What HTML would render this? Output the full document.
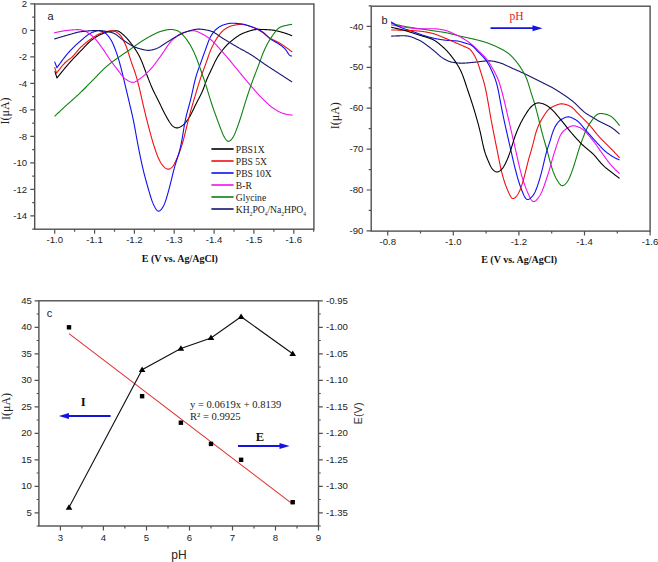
<!DOCTYPE html><html><head><meta charset="utf-8"><style>html,body{margin:0;padding:0;background:#fff;width:658px;height:562px;overflow:hidden}svg{display:block}</style></head><body>
<svg width="658" height="562" viewBox="0 0 658 562">
<rect x="34.7" y="4.0" width="279.2" height="225.2" fill="none" stroke="#505050" stroke-width="1.4"/>
<text transform="translate(54.70,243.30) scale(1.000,1)" font-family='"Liberation Sans", sans-serif' font-size="9.6" text-anchor="middle" fill="#222">-1.0</text>
<text transform="translate(94.55,243.30) scale(1.000,1)" font-family='"Liberation Sans", sans-serif' font-size="9.6" text-anchor="middle" fill="#222">-1.1</text>
<text transform="translate(134.40,243.30) scale(1.000,1)" font-family='"Liberation Sans", sans-serif' font-size="9.6" text-anchor="middle" fill="#222">-1.2</text>
<text transform="translate(174.25,243.30) scale(1.000,1)" font-family='"Liberation Sans", sans-serif' font-size="9.6" text-anchor="middle" fill="#222">-1.3</text>
<text transform="translate(214.10,243.30) scale(1.000,1)" font-family='"Liberation Sans", sans-serif' font-size="9.6" text-anchor="middle" fill="#222">-1.4</text>
<text transform="translate(253.95,243.30) scale(1.000,1)" font-family='"Liberation Sans", sans-serif' font-size="9.6" text-anchor="middle" fill="#222">-1.5</text>
<text transform="translate(293.80,243.30) scale(1.000,1)" font-family='"Liberation Sans", sans-serif' font-size="9.6" text-anchor="middle" fill="#222">-1.6</text>
<text transform="translate(27.20,7.00) scale(1.000,1)" font-family='"Liberation Sans", sans-serif' font-size="9.6" text-anchor="end" fill="#222">2</text>
<text transform="translate(27.20,33.50) scale(1.000,1)" font-family='"Liberation Sans", sans-serif' font-size="9.6" text-anchor="end" fill="#222">0</text>
<text transform="translate(27.20,60.00) scale(1.000,1)" font-family='"Liberation Sans", sans-serif' font-size="9.6" text-anchor="end" fill="#222">-2</text>
<text transform="translate(27.20,86.50) scale(1.000,1)" font-family='"Liberation Sans", sans-serif' font-size="9.6" text-anchor="end" fill="#222">-4</text>
<text transform="translate(27.20,113.00) scale(1.000,1)" font-family='"Liberation Sans", sans-serif' font-size="9.6" text-anchor="end" fill="#222">-6</text>
<text transform="translate(27.20,139.50) scale(1.000,1)" font-family='"Liberation Sans", sans-serif' font-size="9.6" text-anchor="end" fill="#222">-8</text>
<text transform="translate(27.20,166.00) scale(1.000,1)" font-family='"Liberation Sans", sans-serif' font-size="9.6" text-anchor="end" fill="#222">-10</text>
<text transform="translate(27.20,192.50) scale(1.000,1)" font-family='"Liberation Sans", sans-serif' font-size="9.6" text-anchor="end" fill="#222">-12</text>
<text transform="translate(27.20,219.00) scale(1.000,1)" font-family='"Liberation Sans", sans-serif' font-size="9.6" text-anchor="end" fill="#222">-14</text>
<path d="M54.7 229.2v4.5 M94.6 229.2v4.5 M134.4 229.2v4.5 M174.2 229.2v4.5 M214.1 229.2v4.5 M253.9 229.2v4.5 M293.8 229.2v4.5 M74.6 229.2v2.5 M114.5 229.2v2.5 M154.3 229.2v2.5 M194.2 229.2v2.5 M234.0 229.2v2.5 M273.9 229.2v2.5 M313.7 229.2v2.5 M34.7 3.9h-4.4 M34.7 30.4h-4.4 M34.7 56.9h-4.4 M34.7 83.4h-4.4 M34.7 109.9h-4.4 M34.7 136.4h-4.4 M34.7 162.9h-4.4 M34.7 189.4h-4.4 M34.7 215.9h-4.4 M34.7 17.1h-2.5 M34.7 43.6h-2.5 M34.7 70.2h-2.5 M34.7 96.7h-2.5 M34.7 123.2h-2.5 M34.7 149.7h-2.5 M34.7 176.2h-2.5 M34.7 202.7h-2.5 M34.7 229.2h-2.5" stroke="#505050" stroke-width="1.2" fill="none"/>
<path d="M54.80 71.20 L57.00 78.00 L57.00 78.00 L57.50 77.30 L58.00 76.66 L58.50 76.04 L59.00 75.42 L59.50 74.80 L60.00 74.18 L60.50 73.56 L61.00 72.93 L61.50 72.31 L62.00 71.70 L62.50 71.09 L63.00 70.48 L63.50 69.87 L64.00 69.27 L64.50 68.67 L65.00 68.07 L65.50 67.48 L66.00 66.89 L66.50 66.31 L67.00 65.72 L67.50 65.14 L68.00 64.56 L68.50 63.99 L69.00 63.42 L69.50 62.85 L70.00 62.28 L70.50 61.72 L71.00 61.16 L71.50 60.61 L72.00 60.05 L72.50 59.50 L73.00 58.96 L73.50 58.42 L74.00 57.88 L74.50 57.35 L75.00 56.83 L75.50 56.31 L76.00 55.79 L76.50 55.28 L77.00 54.76 L77.50 54.25 L78.00 53.74 L78.50 53.24 L79.00 52.73 L79.50 52.22 L80.00 51.71 L80.50 51.19 L81.00 50.67 L81.50 50.15 L82.00 49.62 L82.50 49.09 L83.00 48.55 L83.50 48.01 L84.00 47.46 L84.50 46.92 L85.00 46.38 L85.50 45.84 L86.00 45.31 L86.50 44.78 L87.00 44.26 L87.50 43.75 L88.00 43.25 L88.50 42.77 L89.00 42.30 L89.50 41.84 L90.00 41.40 L90.50 40.98 L91.00 40.58 L91.50 40.18 L92.00 39.80 L92.50 39.44 L93.00 39.08 L93.50 38.72 L94.00 38.38 L94.50 38.04 L95.00 37.71 L95.50 37.39 L96.00 37.07 L96.50 36.76 L97.00 36.46 L97.50 36.17 L98.00 35.89 L98.50 35.61 L99.00 35.34 L99.50 35.08 L100.00 34.83 L100.50 34.59 L101.00 34.36 L101.50 34.13 L102.00 33.91 L102.50 33.70 L103.00 33.49 L103.50 33.29 L104.00 33.09 L104.50 32.89 L105.00 32.70 L105.50 32.52 L106.00 32.34 L106.50 32.18 L107.00 32.02 L107.50 31.87 L108.00 31.74 L108.50 31.62 L109.00 31.51 L109.50 31.41 L110.00 31.33 L110.50 31.25 L111.00 31.18 L111.50 31.11 L112.00 31.05 L112.50 31.00 L113.00 30.94 L113.50 30.90 L114.00 30.85 L114.50 30.82 L115.00 30.78 L115.50 30.76 L116.00 30.76 L116.50 30.78 L117.00 30.82 L117.50 30.91 L118.00 31.04 L118.50 31.23 L119.00 31.47 L119.50 31.76 L120.00 32.09 L120.50 32.46 L121.00 32.85 L121.50 33.27 L122.00 33.69 L122.50 34.12 L123.00 34.56 L123.50 35.00 L124.00 35.45 L124.50 35.91 L125.00 36.39 L125.50 36.88 L126.00 37.39 L126.50 37.92 L127.00 38.47 L127.50 39.03 L128.00 39.61 L128.50 40.21 L129.00 40.81 L129.50 41.43 L130.00 42.06 L130.50 42.69 L131.00 43.34 L131.50 43.99 L132.00 44.66 L132.50 45.33 L133.00 46.02 L133.50 46.71 L134.00 47.42 L134.50 48.15 L135.00 48.89 L135.50 49.65 L136.00 50.43 L136.50 51.23 L137.00 52.05 L137.50 52.89 L138.00 53.76 L138.50 54.65 L139.00 55.58 L139.50 56.54 L140.00 57.54 L140.50 58.60 L141.00 59.70 L141.50 60.86 L142.00 62.06 L142.50 63.31 L143.00 64.60 L143.50 65.92 L144.00 67.25 L144.50 68.60 L145.00 69.94 L145.50 71.28 L146.00 72.61 L146.50 73.92 L147.00 75.23 L147.50 76.52 L148.00 77.81 L148.50 79.09 L149.00 80.36 L149.50 81.63 L150.00 82.89 L150.50 84.12 L151.00 85.34 L151.50 86.53 L152.00 87.70 L152.50 88.83 L153.00 89.94 L153.50 91.02 L154.00 92.07 L154.50 93.11 L155.00 94.12 L155.50 95.12 L156.00 96.12 L156.50 97.10 L157.00 98.08 L157.50 99.06 L158.00 100.05 L158.50 101.04 L159.00 102.03 L159.50 103.04 L160.00 104.06 L160.50 105.09 L161.00 106.12 L161.50 107.15 L162.00 108.19 L162.50 109.22 L163.00 110.24 L163.50 111.24 L164.00 112.23 L164.50 113.19 L165.00 114.14 L165.50 115.06 L166.00 115.97 L166.50 116.87 L167.00 117.76 L167.50 118.65 L168.00 119.52 L168.50 120.38 L169.00 121.23 L169.50 122.04 L170.00 122.81 L170.50 123.53 L171.00 124.20 L171.50 124.80 L172.00 125.34 L172.50 125.82 L173.00 126.23 L173.50 126.60 L174.00 126.92 L174.50 127.20 L175.00 127.44 L175.50 127.64 L176.00 127.79 L176.50 127.88 L177.00 127.92 L177.50 127.91 L178.00 127.83 L178.50 127.71 L179.00 127.54 L179.50 127.33 L180.00 127.09 L180.50 126.82 L181.00 126.53 L181.50 126.21 L182.00 125.88 L182.50 125.52 L183.00 125.13 L183.50 124.71 L184.00 124.25 L184.50 123.75 L185.00 123.21 L185.50 122.63 L186.00 122.02 L186.50 121.37 L187.00 120.70 L187.50 120.00 L188.00 119.29 L188.50 118.54 L189.00 117.77 L189.50 116.97 L190.00 116.13 L190.50 115.25 L191.00 114.33 L191.50 113.36 L192.00 112.36 L192.50 111.33 L193.00 110.28 L193.50 109.22 L194.00 108.15 L194.50 107.09 L195.00 106.03 L195.50 104.99 L196.00 103.97 L196.50 102.98 L197.00 102.00 L197.50 101.03 L198.00 100.08 L198.50 99.14 L199.00 98.19 L199.50 97.24 L200.00 96.28 L200.50 95.29 L201.00 94.28 L201.50 93.23 L202.00 92.13 L202.50 90.97 L203.00 89.75 L203.50 88.46 L204.00 87.11 L204.50 85.72 L205.00 84.31 L205.50 82.91 L206.00 81.55 L206.50 80.25 L207.00 79.01 L207.50 77.84 L208.00 76.71 L208.50 75.63 L209.00 74.57 L209.50 73.52 L210.00 72.47 L210.50 71.41 L211.00 70.35 L211.50 69.27 L212.00 68.20 L212.50 67.12 L213.00 66.04 L213.50 64.97 L214.00 63.91 L214.50 62.87 L215.00 61.85 L215.50 60.86 L216.00 59.89 L216.50 58.97 L217.00 58.08 L217.50 57.22 L218.00 56.41 L218.50 55.63 L219.00 54.87 L219.50 54.14 L220.00 53.43 L220.50 52.74 L221.00 52.06 L221.50 51.39 L222.00 50.74 L222.50 50.11 L223.00 49.48 L223.50 48.87 L224.00 48.28 L224.50 47.70 L225.00 47.13 L225.50 46.57 L226.00 46.03 L226.50 45.50 L227.00 44.98 L227.50 44.48 L228.00 43.99 L228.50 43.51 L229.00 43.05 L229.50 42.60 L230.00 42.15 L230.50 41.72 L231.00 41.30 L231.50 40.88 L232.00 40.47 L232.50 40.07 L233.00 39.67 L233.50 39.27 L234.00 38.88 L234.50 38.50 L235.00 38.13 L235.50 37.76 L236.00 37.39 L236.50 37.04 L237.00 36.69 L237.50 36.35 L238.00 36.03 L238.50 35.70 L239.00 35.39 L239.50 35.09 L240.00 34.80 L240.50 34.53 L241.00 34.26 L241.50 34.00 L242.00 33.76 L242.50 33.53 L243.00 33.31 L243.50 33.10 L244.00 32.90 L244.50 32.70 L245.00 32.52 L245.50 32.34 L246.00 32.16 L246.50 31.98 L247.00 31.80 L247.50 31.63 L248.00 31.46 L248.50 31.29 L249.00 31.12 L249.50 30.97 L250.00 30.81 L250.50 30.66 L251.00 30.52 L251.50 30.38 L252.00 30.25 L252.50 30.13 L253.00 30.01 L253.50 29.91 L254.00 29.81 L254.50 29.73 L255.00 29.65 L255.50 29.58 L256.00 29.53 L256.50 29.49 L257.00 29.45 L257.50 29.43 L258.00 29.42 L258.50 29.41 L259.00 29.41 L259.50 29.42 L260.00 29.42 L260.50 29.43 L261.00 29.44 L261.50 29.46 L262.00 29.47 L262.50 29.49 L263.00 29.50 L263.50 29.52 L264.00 29.54 L264.50 29.56 L265.00 29.59 L265.50 29.61 L266.00 29.64 L266.50 29.67 L267.00 29.69 L267.50 29.72 L268.00 29.75 L268.50 29.79 L269.00 29.82 L269.50 29.85 L270.00 29.89 L270.50 29.92 L271.00 29.96 L271.50 30.01 L272.00 30.05 L272.50 30.11 L273.00 30.17 L273.50 30.23 L274.00 30.31 L274.50 30.39 L275.00 30.48 L275.50 30.58 L276.00 30.68 L276.50 30.79 L277.00 30.91 L277.50 31.03 L278.00 31.15 L278.50 31.28 L279.00 31.41 L279.50 31.55 L280.00 31.68 L280.50 31.82 L281.00 31.97 L281.50 32.11 L282.00 32.25 L282.50 32.40 L283.00 32.54 L283.50 32.69 L284.00 32.84 L284.50 32.99 L285.00 33.14 L285.50 33.30 L286.00 33.47 L286.50 33.64 L287.00 33.81 L287.50 33.99 L288.00 34.17 L288.50 34.36 L289.00 34.55 L289.50 34.74 L290.00 34.94 L290.50 35.13 L291.00 35.33 L291.50 35.53 L292.00 35.75 L292.10 35.80" stroke="#000" stroke-width="1.1" fill="none" stroke-linejoin="round"/>
<path d="M54.60 67.10 L56.60 73.30 L56.60 73.30 L57.10 72.51 L57.60 71.80 L58.10 71.11 L58.60 70.44 L59.10 69.77 L59.60 69.11 L60.10 68.47 L60.60 67.82 L61.10 67.20 L61.60 66.59 L62.10 65.99 L62.60 65.41 L63.10 64.84 L63.60 64.29 L64.10 63.76 L64.60 63.24 L65.10 62.75 L65.60 62.27 L66.10 61.81 L66.60 61.38 L67.10 60.96 L67.60 60.57 L68.10 60.18 L68.60 59.80 L69.10 59.43 L69.60 59.05 L70.10 58.67 L70.60 58.28 L71.10 57.87 L71.60 57.45 L72.10 56.99 L72.60 56.51 L73.10 56.01 L73.60 55.47 L74.10 54.91 L74.60 54.32 L75.10 53.72 L75.60 53.11 L76.10 52.49 L76.60 51.88 L77.10 51.27 L77.60 50.67 L78.10 50.08 L78.60 49.52 L79.10 48.98 L79.60 48.45 L80.10 47.95 L80.60 47.46 L81.10 46.97 L81.60 46.50 L82.10 46.04 L82.60 45.58 L83.10 45.13 L83.60 44.69 L84.10 44.25 L84.60 43.82 L85.10 43.39 L85.60 42.97 L86.10 42.56 L86.60 42.16 L87.10 41.76 L87.60 41.37 L88.10 40.99 L88.60 40.62 L89.10 40.25 L89.60 39.89 L90.10 39.53 L90.60 39.19 L91.10 38.85 L91.60 38.51 L92.10 38.17 L92.60 37.84 L93.10 37.51 L93.60 37.18 L94.10 36.86 L94.60 36.54 L95.10 36.22 L95.60 35.91 L96.10 35.60 L96.60 35.31 L97.10 35.02 L97.60 34.74 L98.10 34.47 L98.60 34.22 L99.10 33.97 L99.60 33.74 L100.10 33.52 L100.60 33.32 L101.10 33.13 L101.60 32.96 L102.10 32.79 L102.60 32.64 L103.10 32.49 L103.60 32.34 L104.10 32.20 L104.60 32.07 L105.10 31.93 L105.60 31.80 L106.10 31.67 L106.60 31.55 L107.10 31.44 L107.60 31.33 L108.10 31.23 L108.60 31.13 L109.10 31.05 L109.60 30.97 L110.10 30.90 L110.60 30.85 L111.10 30.80 L111.60 30.78 L112.10 30.77 L112.60 30.78 L113.10 30.83 L113.60 30.91 L114.10 31.03 L114.60 31.19 L115.10 31.38 L115.60 31.62 L116.10 31.88 L116.60 32.17 L117.10 32.49 L117.60 32.83 L118.10 33.20 L118.60 33.60 L119.10 34.04 L119.60 34.52 L120.10 35.07 L120.60 35.68 L121.10 36.35 L121.60 37.09 L122.10 37.90 L122.60 38.76 L123.10 39.67 L123.60 40.63 L124.10 41.64 L124.60 42.69 L125.10 43.79 L125.60 44.96 L126.10 46.21 L126.60 47.54 L127.10 48.95 L127.60 50.43 L128.10 51.97 L128.60 53.55 L129.10 55.15 L129.60 56.74 L130.10 58.31 L130.60 59.85 L131.10 61.34 L131.60 62.80 L132.10 64.23 L132.60 65.63 L133.10 67.02 L133.60 68.42 L134.10 69.83 L134.60 71.28 L135.10 72.76 L135.60 74.30 L136.10 75.90 L136.60 77.58 L137.10 79.34 L137.60 81.17 L138.10 83.08 L138.60 85.06 L139.10 87.10 L139.60 89.20 L140.10 91.34 L140.60 93.51 L141.10 95.71 L141.60 97.92 L142.10 100.13 L142.60 102.34 L143.10 104.53 L143.60 106.69 L144.10 108.83 L144.60 110.93 L145.10 112.99 L145.60 115.02 L146.10 117.02 L146.60 119.01 L147.10 120.98 L147.60 122.93 L148.10 124.88 L148.60 126.81 L149.10 128.72 L149.60 130.62 L150.10 132.48 L150.60 134.32 L151.10 136.13 L151.60 137.90 L152.10 139.63 L152.60 141.33 L153.10 142.98 L153.60 144.59 L154.10 146.18 L154.60 147.73 L155.10 149.25 L155.60 150.73 L156.10 152.18 L156.60 153.58 L157.10 154.92 L157.60 156.20 L158.10 157.41 L158.60 158.54 L159.10 159.61 L159.60 160.61 L160.10 161.54 L160.60 162.42 L161.10 163.25 L161.60 164.01 L162.10 164.71 L162.60 165.36 L163.10 165.94 L163.60 166.48 L164.10 166.96 L164.60 167.41 L165.10 167.82 L165.60 168.19 L166.10 168.51 L166.60 168.78 L167.10 168.98 L167.60 169.11 L168.10 169.16 L168.60 169.14 L169.10 169.04 L169.60 168.88 L170.10 168.65 L170.60 168.37 L171.10 168.02 L171.60 167.61 L172.10 167.13 L172.60 166.55 L173.10 165.87 L173.60 165.10 L174.10 164.25 L174.60 163.33 L175.10 162.35 L175.60 161.34 L176.10 160.28 L176.60 159.20 L177.10 158.08 L177.60 156.92 L178.10 155.71 L178.60 154.47 L179.10 153.18 L179.60 151.85 L180.10 150.48 L180.60 149.05 L181.10 147.58 L181.60 146.05 L182.10 144.45 L182.60 142.78 L183.10 141.02 L183.60 139.18 L184.10 137.27 L184.60 135.29 L185.10 133.26 L185.60 131.19 L186.10 129.10 L186.60 127.01 L187.10 124.92 L187.60 122.85 L188.10 120.83 L188.60 118.84 L189.10 116.91 L189.60 115.02 L190.10 113.17 L190.60 111.36 L191.10 109.58 L191.60 107.82 L192.10 106.08 L192.60 104.36 L193.10 102.65 L193.60 100.95 L194.10 99.26 L194.60 97.58 L195.10 95.90 L195.60 94.22 L196.10 92.55 L196.60 90.89 L197.10 89.23 L197.60 87.58 L198.10 85.95 L198.60 84.33 L199.10 82.72 L199.60 81.14 L200.10 79.59 L200.60 78.07 L201.10 76.57 L201.60 75.11 L202.10 73.69 L202.60 72.30 L203.10 70.94 L203.60 69.60 L204.10 68.27 L204.60 66.94 L205.10 65.60 L205.60 64.24 L206.10 62.85 L206.60 61.42 L207.10 59.97 L207.60 58.50 L208.10 57.03 L208.60 55.58 L209.10 54.18 L209.60 52.84 L210.10 51.55 L210.60 50.33 L211.10 49.15 L211.60 48.03 L212.10 46.94 L212.60 45.89 L213.10 44.87 L213.60 43.89 L214.10 42.94 L214.60 42.02 L215.10 41.14 L215.60 40.29 L216.10 39.47 L216.60 38.68 L217.10 37.91 L217.60 37.17 L218.10 36.45 L218.60 35.74 L219.10 35.06 L219.60 34.40 L220.10 33.76 L220.60 33.15 L221.10 32.57 L221.60 32.02 L222.10 31.51 L222.60 31.02 L223.10 30.57 L223.60 30.15 L224.10 29.76 L224.60 29.39 L225.10 29.04 L225.60 28.70 L226.10 28.37 L226.60 28.06 L227.10 27.77 L227.60 27.48 L228.10 27.21 L228.60 26.96 L229.10 26.73 L229.60 26.51 L230.10 26.31 L230.60 26.13 L231.10 25.96 L231.60 25.82 L232.10 25.68 L232.60 25.56 L233.10 25.44 L233.60 25.33 L234.10 25.22 L234.60 25.12 L235.10 25.02 L235.60 24.93 L236.10 24.84 L236.60 24.75 L237.10 24.68 L237.60 24.61 L238.10 24.54 L238.60 24.49 L239.10 24.44 L239.60 24.40 L240.10 24.37 L240.60 24.35 L241.10 24.34 L241.60 24.34 L242.10 24.36 L242.60 24.40 L243.10 24.45 L243.60 24.51 L244.10 24.60 L244.60 24.69 L245.10 24.80 L245.60 24.92 L246.10 25.05 L246.60 25.19 L247.10 25.33 L247.60 25.49 L248.10 25.65 L248.60 25.81 L249.10 25.97 L249.60 26.14 L250.10 26.30 L250.60 26.47 L251.10 26.65 L251.60 26.82 L252.10 27.01 L252.60 27.20 L253.10 27.40 L253.60 27.61 L254.10 27.82 L254.60 28.05 L255.10 28.28 L255.60 28.52 L256.10 28.77 L256.60 29.03 L257.10 29.29 L257.60 29.56 L258.10 29.83 L258.60 30.11 L259.10 30.39 L259.60 30.68 L260.10 30.97 L260.60 31.27 L261.10 31.57 L261.60 31.88 L262.10 32.20 L262.60 32.53 L263.10 32.88 L263.60 33.24 L264.10 33.61 L264.60 34.00 L265.10 34.40 L265.60 34.80 L266.10 35.21 L266.60 35.61 L267.10 36.01 L267.60 36.41 L268.10 36.79 L268.60 37.17 L269.10 37.52 L269.60 37.86 L270.10 38.18 L270.60 38.49 L271.10 38.78 L271.60 39.05 L272.10 39.31 L272.60 39.57 L273.10 39.81 L273.60 40.05 L274.10 40.29 L274.60 40.52 L275.10 40.76 L275.60 40.99 L276.10 41.23 L276.60 41.48 L277.10 41.73 L277.60 41.99 L278.10 42.26 L278.60 42.54 L279.10 42.83 L279.60 43.13 L280.10 43.43 L280.60 43.74 L281.10 44.06 L281.60 44.38 L282.10 44.71 L282.60 45.04 L283.10 45.38 L283.60 45.72 L284.10 46.06 L284.60 46.41 L285.10 46.75 L285.60 47.10 L286.10 47.45 L286.60 47.81 L287.10 48.16 L287.60 48.52 L288.10 48.88 L288.60 49.25 L289.10 49.62 L289.60 49.99 L290.10 50.36 L290.60 50.72 L291.10 51.09 L291.60 51.47 L292.10 51.87 L292.10 51.90" stroke="#ee1111" stroke-width="1.1" fill="none" stroke-linejoin="round"/>
<path d="M54.60 61.60 L57.00 67.80 L57.00 67.80 L57.50 67.00 L58.00 66.27 L58.50 65.56 L59.00 64.86 L59.50 64.16 L60.00 63.46 L60.50 62.76 L61.00 62.07 L61.50 61.38 L62.00 60.70 L62.50 60.03 L63.00 59.37 L63.50 58.71 L64.00 58.06 L64.50 57.42 L65.00 56.79 L65.50 56.17 L66.00 55.55 L66.50 54.94 L67.00 54.34 L67.50 53.75 L68.00 53.17 L68.50 52.60 L69.00 52.03 L69.50 51.47 L70.00 50.92 L70.50 50.38 L71.00 49.85 L71.50 49.33 L72.00 48.81 L72.50 48.30 L73.00 47.80 L73.50 47.31 L74.00 46.82 L74.50 46.34 L75.00 45.86 L75.50 45.39 L76.00 44.93 L76.50 44.47 L77.00 44.02 L77.50 43.57 L78.00 43.13 L78.50 42.69 L79.00 42.26 L79.50 41.82 L80.00 41.40 L80.50 40.97 L81.00 40.54 L81.50 40.11 L82.00 39.68 L82.50 39.24 L83.00 38.81 L83.50 38.37 L84.00 37.93 L84.50 37.50 L85.00 37.08 L85.50 36.66 L86.00 36.25 L86.50 35.84 L87.00 35.46 L87.50 35.08 L88.00 34.72 L88.50 34.38 L89.00 34.06 L89.50 33.76 L90.00 33.48 L90.50 33.22 L91.00 32.98 L91.50 32.75 L92.00 32.54 L92.50 32.33 L93.00 32.14 L93.50 31.95 L94.00 31.76 L94.50 31.59 L95.00 31.43 L95.50 31.28 L96.00 31.15 L96.50 31.03 L97.00 30.94 L97.50 30.86 L98.00 30.81 L98.50 30.79 L99.00 30.79 L99.50 30.83 L100.00 30.89 L100.50 30.99 L101.00 31.11 L101.50 31.25 L102.00 31.42 L102.50 31.60 L103.00 31.81 L103.50 32.04 L104.00 32.29 L104.50 32.57 L105.00 32.89 L105.50 33.25 L106.00 33.66 L106.50 34.12 L107.00 34.62 L107.50 35.16 L108.00 35.75 L108.50 36.37 L109.00 37.02 L109.50 37.70 L110.00 38.43 L110.50 39.20 L111.00 40.01 L111.50 40.89 L112.00 41.84 L112.50 42.84 L113.00 43.92 L113.50 45.05 L114.00 46.23 L114.50 47.46 L115.00 48.74 L115.50 50.05 L116.00 51.41 L116.50 52.82 L117.00 54.29 L117.50 55.81 L118.00 57.38 L118.50 59.02 L119.00 60.70 L119.50 62.44 L120.00 64.23 L120.50 66.08 L121.00 67.98 L121.50 69.94 L122.00 71.95 L122.50 73.99 L123.00 76.06 L123.50 78.14 L124.00 80.23 L124.50 82.32 L125.00 84.41 L125.50 86.51 L126.00 88.60 L126.50 90.70 L127.00 92.81 L127.50 94.92 L128.00 97.04 L128.50 99.16 L129.00 101.28 L129.50 103.40 L130.00 105.51 L130.50 107.62 L131.00 109.74 L131.50 111.87 L132.00 114.03 L132.50 116.25 L133.00 118.54 L133.50 120.92 L134.00 123.42 L134.50 126.02 L135.00 128.72 L135.50 131.48 L136.00 134.27 L136.50 137.05 L137.00 139.79 L137.50 142.49 L138.00 145.14 L138.50 147.73 L139.00 150.29 L139.50 152.81 L140.00 155.28 L140.50 157.70 L141.00 160.07 L141.50 162.39 L142.00 164.64 L142.50 166.84 L143.00 168.97 L143.50 171.05 L144.00 173.07 L144.50 175.05 L145.00 176.97 L145.50 178.85 L146.00 180.70 L146.50 182.50 L147.00 184.28 L147.50 186.03 L148.00 187.76 L148.50 189.48 L149.00 191.19 L149.50 192.89 L150.00 194.57 L150.50 196.22 L151.00 197.82 L151.50 199.35 L152.00 200.80 L152.50 202.14 L153.00 203.39 L153.50 204.54 L154.00 205.59 L154.50 206.57 L155.00 207.49 L155.50 208.33 L156.00 209.09 L156.50 209.76 L157.00 210.31 L157.50 210.73 L158.00 211.01 L158.50 211.13 L159.00 211.10 L159.50 210.92 L160.00 210.62 L160.50 210.20 L161.00 209.68 L161.50 209.08 L162.00 208.41 L162.50 207.66 L163.00 206.84 L163.50 205.92 L164.00 204.90 L164.50 203.75 L165.00 202.48 L165.50 201.08 L166.00 199.58 L166.50 197.99 L167.00 196.33 L167.50 194.61 L168.00 192.86 L168.50 191.07 L169.00 189.23 L169.50 187.35 L170.00 185.42 L170.50 183.43 L171.00 181.40 L171.50 179.34 L172.00 177.26 L172.50 175.21 L173.00 173.18 L173.50 171.21 L174.00 169.30 L174.50 167.47 L175.00 165.72 L175.50 164.03 L176.00 162.41 L176.50 160.82 L177.00 159.26 L177.50 157.70 L178.00 156.11 L178.50 154.49 L179.00 152.79 L179.50 151.00 L180.00 149.08 L180.50 146.99 L181.00 144.71 L181.50 142.21 L182.00 139.49 L182.50 136.58 L183.00 133.55 L183.50 130.48 L184.00 127.46 L184.50 124.58 L185.00 121.88 L185.50 119.39 L186.00 117.10 L186.50 114.99 L187.00 113.02 L187.50 111.15 L188.00 109.34 L188.50 107.56 L189.00 105.77 L189.50 103.94 L190.00 102.05 L190.50 100.08 L191.00 98.01 L191.50 95.85 L192.00 93.61 L192.50 91.32 L193.00 89.01 L193.50 86.72 L194.00 84.49 L194.50 82.34 L195.00 80.31 L195.50 78.40 L196.00 76.62 L196.50 74.94 L197.00 73.36 L197.50 71.85 L198.00 70.41 L198.50 69.00 L199.00 67.61 L199.50 66.24 L200.00 64.87 L200.50 63.49 L201.00 62.11 L201.50 60.72 L202.00 59.32 L202.50 57.93 L203.00 56.53 L203.50 55.14 L204.00 53.76 L204.50 52.37 L205.00 50.98 L205.50 49.59 L206.00 48.20 L206.50 46.79 L207.00 45.38 L207.50 43.98 L208.00 42.60 L208.50 41.27 L209.00 40.02 L209.50 38.86 L210.00 37.79 L210.50 36.82 L211.00 35.92 L211.50 35.08 L212.00 34.30 L212.50 33.57 L213.00 32.87 L213.50 32.21 L214.00 31.59 L214.50 31.01 L215.00 30.46 L215.50 29.95 L216.00 29.47 L216.50 29.03 L217.00 28.61 L217.50 28.21 L218.00 27.84 L218.50 27.48 L219.00 27.15 L219.50 26.82 L220.00 26.52 L220.50 26.23 L221.00 25.97 L221.50 25.72 L222.00 25.49 L222.50 25.27 L223.00 25.08 L223.50 24.90 L224.00 24.74 L224.50 24.58 L225.00 24.43 L225.50 24.29 L226.00 24.16 L226.50 24.03 L227.00 23.90 L227.50 23.79 L228.00 23.68 L228.50 23.58 L229.00 23.50 L229.50 23.42 L230.00 23.36 L230.50 23.31 L231.00 23.27 L231.50 23.24 L232.00 23.23 L232.50 23.22 L233.00 23.23 L233.50 23.24 L234.00 23.26 L234.50 23.28 L235.00 23.30 L235.50 23.33 L236.00 23.37 L236.50 23.40 L237.00 23.44 L237.50 23.49 L238.00 23.53 L238.50 23.58 L239.00 23.63 L239.50 23.68 L240.00 23.74 L240.50 23.79 L241.00 23.85 L241.50 23.92 L242.00 23.99 L242.50 24.08 L243.00 24.17 L243.50 24.27 L244.00 24.38 L244.50 24.50 L245.00 24.64 L245.50 24.78 L246.00 24.92 L246.50 25.08 L247.00 25.23 L247.50 25.40 L248.00 25.56 L248.50 25.73 L249.00 25.91 L249.50 26.08 L250.00 26.25 L250.50 26.43 L251.00 26.60 L251.50 26.77 L252.00 26.95 L252.50 27.13 L253.00 27.31 L253.50 27.49 L254.00 27.67 L254.50 27.86 L255.00 28.05 L255.50 28.25 L256.00 28.45 L256.50 28.66 L257.00 28.87 L257.50 29.09 L258.00 29.32 L258.50 29.55 L259.00 29.80 L259.50 30.05 L260.00 30.30 L260.50 30.57 L261.00 30.86 L261.50 31.16 L262.00 31.48 L262.50 31.82 L263.00 32.19 L263.50 32.59 L264.00 33.02 L264.50 33.48 L265.00 33.95 L265.50 34.44 L266.00 34.94 L266.50 35.45 L267.00 35.95 L267.50 36.45 L268.00 36.94 L268.50 37.41 L269.00 37.85 L269.50 38.28 L270.00 38.67 L270.50 39.04 L271.00 39.39 L271.50 39.72 L272.00 40.03 L272.50 40.32 L273.00 40.61 L273.50 40.89 L274.00 41.16 L274.50 41.43 L275.00 41.70 L275.50 41.98 L276.00 42.26 L276.50 42.54 L277.00 42.84 L277.50 43.15 L278.00 43.46 L278.50 43.79 L279.00 44.12 L279.50 44.46 L280.00 44.81 L280.50 45.16 L281.00 45.52 L281.50 45.89 L282.00 46.26 L282.50 46.66 L283.00 47.07 L283.50 47.49 L284.00 47.94 L284.50 48.42 L285.00 48.93 L285.50 49.49 L286.00 50.11 L286.50 50.81 L287.00 51.57 L287.50 52.37 L288.00 53.17 L288.50 53.90 L289.00 54.57 L289.50 55.12 L290.00 55.47 L290.50 55.70 L291.00 55.85 L291.50 55.95 L292.00 55.99 L292.10 56.00" stroke="#1010f0" stroke-width="1.1" fill="none" stroke-linejoin="round"/>
<path d="M54.20 32.90 L54.70 32.76 L55.20 32.64 L55.70 32.52 L56.20 32.41 L56.70 32.29 L57.20 32.18 L57.70 32.07 L58.20 31.96 L58.70 31.85 L59.20 31.74 L59.70 31.64 L60.20 31.53 L60.70 31.44 L61.20 31.34 L61.70 31.24 L62.20 31.15 L62.70 31.06 L63.20 30.98 L63.70 30.90 L64.20 30.82 L64.70 30.74 L65.20 30.66 L65.70 30.59 L66.20 30.52 L66.70 30.46 L67.20 30.40 L67.70 30.34 L68.20 30.28 L68.70 30.23 L69.20 30.18 L69.70 30.13 L70.20 30.09 L70.70 30.04 L71.20 30.00 L71.70 29.96 L72.20 29.92 L72.70 29.88 L73.20 29.84 L73.70 29.80 L74.20 29.77 L74.70 29.74 L75.20 29.71 L75.70 29.68 L76.20 29.66 L76.70 29.65 L77.20 29.63 L77.70 29.63 L78.20 29.63 L78.70 29.65 L79.20 29.69 L79.70 29.74 L80.20 29.81 L80.70 29.91 L81.20 30.02 L81.70 30.15 L82.20 30.29 L82.70 30.45 L83.20 30.62 L83.70 30.80 L84.20 30.99 L84.70 31.19 L85.20 31.39 L85.70 31.61 L86.20 31.83 L86.70 32.07 L87.20 32.33 L87.70 32.61 L88.20 32.91 L88.70 33.23 L89.20 33.58 L89.70 33.94 L90.20 34.31 L90.70 34.71 L91.20 35.12 L91.70 35.53 L92.20 35.97 L92.70 36.41 L93.20 36.87 L93.70 37.34 L94.20 37.84 L94.70 38.35 L95.20 38.89 L95.70 39.45 L96.20 40.03 L96.70 40.63 L97.20 41.25 L97.70 41.89 L98.20 42.54 L98.70 43.20 L99.20 43.87 L99.70 44.55 L100.20 45.23 L100.70 45.92 L101.20 46.61 L101.70 47.30 L102.20 48.00 L102.70 48.71 L103.20 49.43 L103.70 50.17 L104.20 50.91 L104.70 51.66 L105.20 52.43 L105.70 53.20 L106.20 53.97 L106.70 54.74 L107.20 55.52 L107.70 56.28 L108.20 57.05 L108.70 57.80 L109.20 58.55 L109.70 59.28 L110.20 60.00 L110.70 60.70 L111.20 61.40 L111.70 62.08 L112.20 62.75 L112.70 63.41 L113.20 64.07 L113.70 64.72 L114.20 65.37 L114.70 66.01 L115.20 66.65 L115.70 67.28 L116.20 67.92 L116.70 68.56 L117.20 69.20 L117.70 69.85 L118.20 70.50 L118.70 71.17 L119.20 71.85 L119.70 72.54 L120.20 73.23 L120.70 73.91 L121.20 74.58 L121.70 75.23 L122.20 75.85 L122.70 76.44 L123.20 76.98 L123.70 77.47 L124.20 77.93 L124.70 78.35 L125.20 78.74 L125.70 79.11 L126.20 79.46 L126.70 79.80 L127.20 80.13 L127.70 80.45 L128.20 80.75 L128.70 81.03 L129.20 81.29 L129.70 81.53 L130.20 81.75 L130.70 81.94 L131.20 82.10 L131.70 82.22 L132.20 82.31 L132.70 82.35 L133.20 82.35 L133.70 82.31 L134.20 82.21 L134.70 82.06 L135.20 81.86 L135.70 81.62 L136.20 81.35 L136.70 81.04 L137.20 80.71 L137.70 80.37 L138.20 80.01 L138.70 79.65 L139.20 79.28 L139.70 78.92 L140.20 78.56 L140.70 78.19 L141.20 77.82 L141.70 77.45 L142.20 77.06 L142.70 76.67 L143.20 76.26 L143.70 75.84 L144.20 75.41 L144.70 74.98 L145.20 74.53 L145.70 74.07 L146.20 73.61 L146.70 73.14 L147.20 72.65 L147.70 72.17 L148.20 71.67 L148.70 71.16 L149.20 70.65 L149.70 70.13 L150.20 69.60 L150.70 69.06 L151.20 68.51 L151.70 67.95 L152.20 67.37 L152.70 66.77 L153.20 66.16 L153.70 65.53 L154.20 64.89 L154.70 64.24 L155.20 63.58 L155.70 62.91 L156.20 62.24 L156.70 61.55 L157.20 60.87 L157.70 60.18 L158.20 59.48 L158.70 58.79 L159.20 58.09 L159.70 57.40 L160.20 56.71 L160.70 56.02 L161.20 55.32 L161.70 54.62 L162.20 53.90 L162.70 53.18 L163.20 52.45 L163.70 51.70 L164.20 50.94 L164.70 50.18 L165.20 49.42 L165.70 48.66 L166.20 47.90 L166.70 47.14 L167.20 46.40 L167.70 45.67 L168.20 44.96 L168.70 44.26 L169.20 43.59 L169.70 42.95 L170.20 42.33 L170.70 41.75 L171.20 41.19 L171.70 40.67 L172.20 40.17 L172.70 39.68 L173.20 39.22 L173.70 38.76 L174.20 38.32 L174.70 37.88 L175.20 37.46 L175.70 37.04 L176.20 36.64 L176.70 36.24 L177.20 35.87 L177.70 35.50 L178.20 35.15 L178.70 34.82 L179.20 34.50 L179.70 34.21 L180.20 33.93 L180.70 33.67 L181.20 33.43 L181.70 33.22 L182.20 33.02 L182.70 32.84 L183.20 32.67 L183.70 32.51 L184.20 32.36 L184.70 32.21 L185.20 32.07 L185.70 31.93 L186.20 31.80 L186.70 31.67 L187.20 31.55 L187.70 31.44 L188.20 31.33 L188.70 31.23 L189.20 31.13 L189.70 31.05 L190.20 30.97 L190.70 30.91 L191.20 30.85 L191.70 30.81 L192.20 30.77 L192.70 30.76 L193.20 30.75 L193.70 30.77 L194.20 30.81 L194.70 30.87 L195.20 30.96 L195.70 31.07 L196.20 31.20 L196.70 31.36 L197.20 31.53 L197.70 31.72 L198.20 31.93 L198.70 32.15 L199.20 32.39 L199.70 32.63 L200.20 32.88 L200.70 33.14 L201.20 33.40 L201.70 33.67 L202.20 33.94 L202.70 34.21 L203.20 34.48 L203.70 34.75 L204.20 35.03 L204.70 35.31 L205.20 35.61 L205.70 35.91 L206.20 36.23 L206.70 36.56 L207.20 36.91 L207.70 37.26 L208.20 37.63 L208.70 38.00 L209.20 38.39 L209.70 38.79 L210.20 39.19 L210.70 39.61 L211.20 40.04 L211.70 40.48 L212.20 40.94 L212.70 41.40 L213.20 41.88 L213.70 42.37 L214.20 42.86 L214.70 43.37 L215.20 43.88 L215.70 44.41 L216.20 44.93 L216.70 45.47 L217.20 46.01 L217.70 46.56 L218.20 47.11 L218.70 47.67 L219.20 48.23 L219.70 48.79 L220.20 49.35 L220.70 49.92 L221.20 50.48 L221.70 51.05 L222.20 51.61 L222.70 52.18 L223.20 52.74 L223.70 53.30 L224.20 53.87 L224.70 54.44 L225.20 55.01 L225.70 55.59 L226.20 56.17 L226.70 56.75 L227.20 57.34 L227.70 57.93 L228.20 58.53 L228.70 59.12 L229.20 59.72 L229.70 60.33 L230.20 60.93 L230.70 61.54 L231.20 62.15 L231.70 62.76 L232.20 63.37 L232.70 63.98 L233.20 64.59 L233.70 65.20 L234.20 65.81 L234.70 66.42 L235.20 67.03 L235.70 67.64 L236.20 68.25 L236.70 68.85 L237.20 69.46 L237.70 70.06 L238.20 70.67 L238.70 71.27 L239.20 71.88 L239.70 72.49 L240.20 73.09 L240.70 73.70 L241.20 74.31 L241.70 74.92 L242.20 75.53 L242.70 76.14 L243.20 76.75 L243.70 77.36 L244.20 77.97 L244.70 78.58 L245.20 79.18 L245.70 79.79 L246.20 80.39 L246.70 80.99 L247.20 81.59 L247.70 82.18 L248.20 82.77 L248.70 83.36 L249.20 83.95 L249.70 84.53 L250.20 85.11 L250.70 85.69 L251.20 86.27 L251.70 86.85 L252.20 87.43 L252.70 88.00 L253.20 88.58 L253.70 89.15 L254.20 89.73 L254.70 90.30 L255.20 90.87 L255.70 91.43 L256.20 92.00 L256.70 92.56 L257.20 93.12 L257.70 93.67 L258.20 94.21 L258.70 94.76 L259.20 95.29 L259.70 95.83 L260.20 96.35 L260.70 96.87 L261.20 97.38 L261.70 97.89 L262.20 98.39 L262.70 98.89 L263.20 99.38 L263.70 99.87 L264.20 100.36 L264.70 100.85 L265.20 101.34 L265.70 101.82 L266.20 102.30 L266.70 102.78 L267.20 103.24 L267.70 103.71 L268.20 104.16 L268.70 104.61 L269.20 105.05 L269.70 105.48 L270.20 105.89 L270.70 106.30 L271.20 106.69 L271.70 107.07 L272.20 107.44 L272.70 107.80 L273.20 108.14 L273.70 108.47 L274.20 108.80 L274.70 109.12 L275.20 109.44 L275.70 109.75 L276.20 110.05 L276.70 110.36 L277.20 110.65 L277.70 110.94 L278.20 111.22 L278.70 111.50 L279.20 111.76 L279.70 112.02 L280.20 112.26 L280.70 112.49 L281.20 112.71 L281.70 112.92 L282.20 113.11 L282.70 113.29 L283.20 113.46 L283.70 113.61 L284.20 113.75 L284.70 113.88 L285.20 114.00 L285.70 114.12 L286.20 114.23 L286.70 114.33 L287.20 114.44 L287.70 114.54 L288.20 114.63 L288.70 114.71 L289.20 114.79 L289.70 114.86 L290.20 114.93 L290.70 114.98 L291.20 115.03 L291.70 115.07 L292.20 115.09 L292.50 115.10" stroke="#f010f0" stroke-width="1.1" fill="none" stroke-linejoin="round"/>
<path d="M54.60 116.30 L55.10 115.79 L55.60 115.31 L56.10 114.85 L56.60 114.39 L57.10 113.92 L57.60 113.46 L58.10 112.99 L58.60 112.51 L59.10 112.04 L59.60 111.58 L60.10 111.11 L60.60 110.64 L61.10 110.17 L61.60 109.71 L62.10 109.24 L62.60 108.78 L63.10 108.31 L63.60 107.85 L64.10 107.39 L64.60 106.93 L65.10 106.47 L65.60 106.01 L66.10 105.56 L66.60 105.11 L67.10 104.65 L67.60 104.20 L68.10 103.76 L68.60 103.31 L69.10 102.87 L69.60 102.42 L70.10 101.98 L70.60 101.54 L71.10 101.10 L71.60 100.66 L72.10 100.22 L72.60 99.78 L73.10 99.34 L73.60 98.89 L74.10 98.45 L74.60 98.00 L75.10 97.56 L75.60 97.11 L76.10 96.66 L76.60 96.20 L77.10 95.74 L77.60 95.28 L78.10 94.82 L78.60 94.35 L79.10 93.88 L79.60 93.41 L80.10 92.93 L80.60 92.45 L81.10 91.97 L81.60 91.48 L82.10 90.99 L82.60 90.50 L83.10 90.00 L83.60 89.50 L84.10 89.00 L84.60 88.50 L85.10 88.00 L85.60 87.49 L86.10 86.99 L86.60 86.48 L87.10 85.97 L87.60 85.47 L88.10 84.96 L88.60 84.45 L89.10 83.94 L89.60 83.43 L90.10 82.93 L90.60 82.42 L91.10 81.91 L91.60 81.41 L92.10 80.90 L92.60 80.40 L93.10 79.89 L93.60 79.39 L94.10 78.88 L94.60 78.36 L95.10 77.85 L95.60 77.33 L96.10 76.81 L96.60 76.29 L97.10 75.77 L97.60 75.25 L98.10 74.73 L98.60 74.21 L99.10 73.69 L99.60 73.17 L100.10 72.65 L100.60 72.14 L101.10 71.63 L101.60 71.12 L102.10 70.62 L102.60 70.13 L103.10 69.64 L103.60 69.16 L104.10 68.68 L104.60 68.21 L105.10 67.75 L105.60 67.30 L106.10 66.86 L106.60 66.42 L107.10 65.99 L107.60 65.57 L108.10 65.16 L108.60 64.75 L109.10 64.34 L109.60 63.94 L110.10 63.55 L110.60 63.16 L111.10 62.78 L111.60 62.39 L112.10 62.02 L112.60 61.64 L113.10 61.27 L113.60 60.90 L114.10 60.54 L114.60 60.17 L115.10 59.81 L115.60 59.45 L116.10 59.10 L116.60 58.74 L117.10 58.39 L117.60 58.03 L118.10 57.68 L118.60 57.33 L119.10 56.98 L119.60 56.62 L120.10 56.28 L120.60 55.93 L121.10 55.58 L121.60 55.24 L122.10 54.90 L122.60 54.57 L123.10 54.23 L123.60 53.90 L124.10 53.57 L124.60 53.24 L125.10 52.91 L125.60 52.58 L126.10 52.25 L126.60 51.91 L127.10 51.58 L127.60 51.24 L128.10 50.90 L128.60 50.55 L129.10 50.20 L129.60 49.85 L130.10 49.49 L130.60 49.13 L131.10 48.77 L131.60 48.41 L132.10 48.04 L132.60 47.67 L133.10 47.30 L133.60 46.94 L134.10 46.57 L134.60 46.20 L135.10 45.83 L135.60 45.47 L136.10 45.11 L136.60 44.75 L137.10 44.39 L137.60 44.04 L138.10 43.69 L138.60 43.35 L139.10 43.01 L139.60 42.68 L140.10 42.34 L140.60 42.02 L141.10 41.69 L141.60 41.37 L142.10 41.05 L142.60 40.73 L143.10 40.42 L143.60 40.10 L144.10 39.79 L144.60 39.48 L145.10 39.18 L145.60 38.88 L146.10 38.58 L146.60 38.28 L147.10 37.99 L147.60 37.70 L148.10 37.42 L148.60 37.14 L149.10 36.86 L149.60 36.59 L150.10 36.32 L150.60 36.06 L151.10 35.79 L151.60 35.53 L152.10 35.27 L152.60 35.01 L153.10 34.75 L153.60 34.49 L154.10 34.23 L154.60 33.97 L155.10 33.72 L155.60 33.47 L156.10 33.23 L156.60 33.00 L157.10 32.77 L157.60 32.55 L158.10 32.34 L158.60 32.13 L159.10 31.94 L159.60 31.76 L160.10 31.59 L160.60 31.43 L161.10 31.28 L161.60 31.13 L162.10 31.00 L162.60 30.86 L163.10 30.73 L163.60 30.60 L164.10 30.47 L164.60 30.35 L165.10 30.23 L165.60 30.12 L166.10 30.01 L166.60 29.91 L167.10 29.82 L167.60 29.73 L168.10 29.66 L168.60 29.59 L169.10 29.54 L169.60 29.49 L170.10 29.46 L170.60 29.45 L171.10 29.45 L171.60 29.47 L172.10 29.50 L172.60 29.55 L173.10 29.62 L173.60 29.71 L174.10 29.80 L174.60 29.92 L175.10 30.04 L175.60 30.17 L176.10 30.32 L176.60 30.48 L177.10 30.66 L177.60 30.86 L178.10 31.10 L178.60 31.36 L179.10 31.67 L179.60 32.01 L180.10 32.39 L180.60 32.81 L181.10 33.25 L181.60 33.72 L182.10 34.22 L182.60 34.73 L183.10 35.26 L183.60 35.80 L184.10 36.35 L184.60 36.92 L185.10 37.51 L185.60 38.12 L186.10 38.75 L186.60 39.42 L187.10 40.11 L187.60 40.83 L188.10 41.58 L188.60 42.36 L189.10 43.16 L189.60 43.99 L190.10 44.83 L190.60 45.70 L191.10 46.60 L191.60 47.52 L192.10 48.47 L192.60 49.46 L193.10 50.48 L193.60 51.53 L194.10 52.62 L194.60 53.74 L195.10 54.88 L195.60 56.06 L196.10 57.27 L196.60 58.52 L197.10 59.80 L197.60 61.13 L198.10 62.49 L198.60 63.88 L199.10 65.30 L199.60 66.73 L200.10 68.16 L200.60 69.60 L201.10 71.03 L201.60 72.46 L202.10 73.89 L202.60 75.32 L203.10 76.76 L203.60 78.21 L204.10 79.68 L204.60 81.18 L205.10 82.69 L205.60 84.24 L206.10 85.81 L206.60 87.40 L207.10 89.02 L207.60 90.65 L208.10 92.29 L208.60 93.94 L209.10 95.58 L209.60 97.21 L210.10 98.82 L210.60 100.41 L211.10 101.97 L211.60 103.51 L212.10 105.02 L212.60 106.51 L213.10 107.98 L213.60 109.42 L214.10 110.85 L214.60 112.27 L215.10 113.67 L215.60 115.05 L216.10 116.43 L216.60 117.79 L217.10 119.14 L217.60 120.48 L218.10 121.82 L218.60 123.16 L219.10 124.51 L219.60 125.86 L220.10 127.21 L220.60 128.56 L221.10 129.88 L221.60 131.17 L222.10 132.41 L222.60 133.58 L223.10 134.68 L223.60 135.70 L224.10 136.64 L224.60 137.52 L225.10 138.33 L225.60 139.08 L226.10 139.75 L226.60 140.32 L227.10 140.79 L227.60 141.12 L228.10 141.31 L228.60 141.35 L229.10 141.25 L229.60 141.03 L230.10 140.70 L230.60 140.28 L231.10 139.79 L231.60 139.22 L232.10 138.60 L232.60 137.90 L233.10 137.13 L233.60 136.26 L234.10 135.29 L234.60 134.24 L235.10 133.10 L235.60 131.88 L236.10 130.60 L236.60 129.27 L237.10 127.90 L237.60 126.51 L238.10 125.10 L238.60 123.67 L239.10 122.23 L239.60 120.76 L240.10 119.27 L240.60 117.74 L241.10 116.18 L241.60 114.58 L242.10 112.95 L242.60 111.30 L243.10 109.64 L243.60 107.97 L244.10 106.31 L244.60 104.67 L245.10 103.04 L245.60 101.43 L246.10 99.85 L246.60 98.29 L247.10 96.74 L247.60 95.21 L248.10 93.69 L248.60 92.18 L249.10 90.69 L249.60 89.21 L250.10 87.75 L250.60 86.31 L251.10 84.89 L251.60 83.49 L252.10 82.11 L252.60 80.75 L253.10 79.41 L253.60 78.09 L254.10 76.78 L254.60 75.49 L255.10 74.20 L255.60 72.91 L256.10 71.63 L256.60 70.34 L257.10 69.04 L257.60 67.74 L258.10 66.42 L258.60 65.08 L259.10 63.73 L259.60 62.37 L260.10 61.00 L260.60 59.63 L261.10 58.27 L261.60 56.93 L262.10 55.60 L262.60 54.31 L263.10 53.05 L263.60 51.84 L264.10 50.67 L264.60 49.54 L265.10 48.46 L265.60 47.41 L266.10 46.39 L266.60 45.41 L267.10 44.45 L267.60 43.52 L268.10 42.61 L268.60 41.72 L269.10 40.87 L269.60 40.03 L270.10 39.23 L270.60 38.44 L271.10 37.68 L271.60 36.93 L272.10 36.19 L272.60 35.47 L273.10 34.75 L273.60 34.03 L274.10 33.33 L274.60 32.64 L275.10 31.97 L275.60 31.32 L276.10 30.71 L276.60 30.12 L277.10 29.57 L277.60 29.07 L278.10 28.61 L278.60 28.20 L279.10 27.84 L279.60 27.53 L280.10 27.26 L280.60 27.02 L281.10 26.81 L281.60 26.62 L282.10 26.45 L282.60 26.30 L283.10 26.15 L283.60 26.01 L284.10 25.88 L284.60 25.76 L285.10 25.64 L285.60 25.53 L286.10 25.41 L286.60 25.30 L287.10 25.20 L287.60 25.09 L288.10 24.99 L288.60 24.89 L289.10 24.79 L289.60 24.70 L290.10 24.61 L290.60 24.53 L291.10 24.45 L291.60 24.38 L292.10 24.30 L292.10 24.30" stroke="#108010" stroke-width="1.1" fill="none" stroke-linejoin="round"/>
<path d="M54.20 39.10 L54.70 38.93 L55.20 38.77 L55.70 38.61 L56.20 38.46 L56.70 38.30 L57.20 38.14 L57.70 37.99 L58.20 37.83 L58.70 37.68 L59.20 37.52 L59.70 37.37 L60.20 37.22 L60.70 37.07 L61.20 36.92 L61.70 36.77 L62.20 36.62 L62.70 36.47 L63.20 36.32 L63.70 36.18 L64.20 36.03 L64.70 35.89 L65.20 35.74 L65.70 35.60 L66.20 35.46 L66.70 35.32 L67.20 35.18 L67.70 35.04 L68.20 34.90 L68.70 34.76 L69.20 34.62 L69.70 34.48 L70.20 34.34 L70.70 34.20 L71.20 34.06 L71.70 33.91 L72.20 33.77 L72.70 33.62 L73.20 33.47 L73.70 33.33 L74.20 33.18 L74.70 33.04 L75.20 32.90 L75.70 32.76 L76.20 32.63 L76.70 32.50 L77.20 32.38 L77.70 32.26 L78.20 32.15 L78.70 32.05 L79.20 31.95 L79.70 31.87 L80.20 31.79 L80.70 31.72 L81.20 31.65 L81.70 31.59 L82.20 31.53 L82.70 31.47 L83.20 31.41 L83.70 31.35 L84.20 31.30 L84.70 31.25 L85.20 31.19 L85.70 31.14 L86.20 31.09 L86.70 31.04 L87.20 31.00 L87.70 30.95 L88.20 30.91 L88.70 30.87 L89.20 30.83 L89.70 30.79 L90.20 30.75 L90.70 30.72 L91.20 30.69 L91.70 30.66 L92.20 30.63 L92.70 30.60 L93.20 30.58 L93.70 30.56 L94.20 30.55 L94.70 30.53 L95.20 30.52 L95.70 30.52 L96.20 30.51 L96.70 30.51 L97.20 30.52 L97.70 30.53 L98.20 30.54 L98.70 30.56 L99.20 30.58 L99.70 30.61 L100.20 30.65 L100.70 30.69 L101.20 30.73 L101.70 30.78 L102.20 30.83 L102.70 30.89 L103.20 30.95 L103.70 31.02 L104.20 31.09 L104.70 31.16 L105.20 31.24 L105.70 31.32 L106.20 31.41 L106.70 31.50 L107.20 31.59 L107.70 31.69 L108.20 31.79 L108.70 31.89 L109.20 31.99 L109.70 32.10 L110.20 32.21 L110.70 32.33 L111.20 32.45 L111.70 32.57 L112.20 32.71 L112.70 32.86 L113.20 33.03 L113.70 33.23 L114.20 33.45 L114.70 33.71 L115.20 33.99 L115.70 34.30 L116.20 34.64 L116.70 35.00 L117.20 35.37 L117.70 35.76 L118.20 36.16 L118.70 36.57 L119.20 36.99 L119.70 37.41 L120.20 37.82 L120.70 38.23 L121.20 38.64 L121.70 39.03 L122.20 39.41 L122.70 39.78 L123.20 40.13 L123.70 40.48 L124.20 40.82 L124.70 41.15 L125.20 41.49 L125.70 41.82 L126.20 42.15 L126.70 42.48 L127.20 42.81 L127.70 43.13 L128.20 43.45 L128.70 43.77 L129.20 44.08 L129.70 44.39 L130.20 44.69 L130.70 44.98 L131.20 45.27 L131.70 45.54 L132.20 45.81 L132.70 46.06 L133.20 46.30 L133.70 46.54 L134.20 46.76 L134.70 46.98 L135.20 47.18 L135.70 47.38 L136.20 47.57 L136.70 47.76 L137.20 47.94 L137.70 48.11 L138.20 48.27 L138.70 48.42 L139.20 48.57 L139.70 48.71 L140.20 48.84 L140.70 48.98 L141.20 49.11 L141.70 49.23 L142.20 49.36 L142.70 49.49 L143.20 49.61 L143.70 49.72 L144.20 49.83 L144.70 49.94 L145.20 50.03 L145.70 50.12 L146.20 50.19 L146.70 50.25 L147.20 50.30 L147.70 50.33 L148.20 50.35 L148.70 50.35 L149.20 50.33 L149.70 50.29 L150.20 50.24 L150.70 50.16 L151.20 50.08 L151.70 49.98 L152.20 49.87 L152.70 49.75 L153.20 49.62 L153.70 49.48 L154.20 49.34 L154.70 49.19 L155.20 49.03 L155.70 48.87 L156.20 48.69 L156.70 48.51 L157.20 48.30 L157.70 48.08 L158.20 47.84 L158.70 47.58 L159.20 47.30 L159.70 47.01 L160.20 46.71 L160.70 46.39 L161.20 46.07 L161.70 45.74 L162.20 45.40 L162.70 45.06 L163.20 44.72 L163.70 44.38 L164.20 44.04 L164.70 43.70 L165.20 43.37 L165.70 43.05 L166.20 42.73 L166.70 42.41 L167.20 42.10 L167.70 41.79 L168.20 41.48 L168.70 41.17 L169.20 40.86 L169.70 40.55 L170.20 40.24 L170.70 39.93 L171.20 39.62 L171.70 39.31 L172.20 39.00 L172.70 38.70 L173.20 38.39 L173.70 38.09 L174.20 37.80 L174.70 37.50 L175.20 37.22 L175.70 36.93 L176.20 36.66 L176.70 36.38 L177.20 36.11 L177.70 35.85 L178.20 35.59 L178.70 35.32 L179.20 35.06 L179.70 34.80 L180.20 34.55 L180.70 34.29 L181.20 34.03 L181.70 33.78 L182.20 33.54 L182.70 33.30 L183.20 33.06 L183.70 32.83 L184.20 32.61 L184.70 32.39 L185.20 32.19 L185.70 31.99 L186.20 31.81 L186.70 31.63 L187.20 31.47 L187.70 31.31 L188.20 31.16 L188.70 31.01 L189.20 30.87 L189.70 30.73 L190.20 30.59 L190.70 30.46 L191.20 30.33 L191.70 30.20 L192.20 30.07 L192.70 29.95 L193.20 29.84 L193.70 29.73 L194.20 29.62 L194.70 29.53 L195.20 29.44 L195.70 29.37 L196.20 29.30 L196.70 29.24 L197.20 29.20 L197.70 29.16 L198.20 29.14 L198.70 29.13 L199.20 29.13 L199.70 29.14 L200.20 29.17 L200.70 29.19 L201.20 29.23 L201.70 29.28 L202.20 29.33 L202.70 29.39 L203.20 29.46 L203.70 29.53 L204.20 29.61 L204.70 29.69 L205.20 29.78 L205.70 29.87 L206.20 29.97 L206.70 30.07 L207.20 30.17 L207.70 30.28 L208.20 30.39 L208.70 30.51 L209.20 30.63 L209.70 30.75 L210.20 30.89 L210.70 31.04 L211.20 31.21 L211.70 31.40 L212.20 31.60 L212.70 31.83 L213.20 32.07 L213.70 32.33 L214.20 32.60 L214.70 32.89 L215.20 33.19 L215.70 33.50 L216.20 33.82 L216.70 34.15 L217.20 34.49 L217.70 34.83 L218.20 35.18 L218.70 35.53 L219.20 35.88 L219.70 36.23 L220.20 36.58 L220.70 36.93 L221.20 37.27 L221.70 37.60 L222.20 37.93 L222.70 38.26 L223.20 38.57 L223.70 38.89 L224.20 39.19 L224.70 39.50 L225.20 39.80 L225.70 40.10 L226.20 40.40 L226.70 40.70 L227.20 41.00 L227.70 41.30 L228.20 41.61 L228.70 41.91 L229.20 42.21 L229.70 42.51 L230.20 42.82 L230.70 43.12 L231.20 43.42 L231.70 43.72 L232.20 44.02 L232.70 44.32 L233.20 44.62 L233.70 44.92 L234.20 45.22 L234.70 45.52 L235.20 45.81 L235.70 46.10 L236.20 46.40 L236.70 46.69 L237.20 46.98 L237.70 47.27 L238.20 47.55 L238.70 47.83 L239.20 48.11 L239.70 48.39 L240.20 48.67 L240.70 48.94 L241.20 49.21 L241.70 49.48 L242.20 49.75 L242.70 50.02 L243.20 50.29 L243.70 50.56 L244.20 50.83 L244.70 51.10 L245.20 51.38 L245.70 51.65 L246.20 51.92 L246.70 52.20 L247.20 52.48 L247.70 52.76 L248.20 53.05 L248.70 53.34 L249.20 53.63 L249.70 53.92 L250.20 54.22 L250.70 54.53 L251.20 54.84 L251.70 55.15 L252.20 55.47 L252.70 55.80 L253.20 56.13 L253.70 56.46 L254.20 56.80 L254.70 57.14 L255.20 57.49 L255.70 57.84 L256.20 58.19 L256.70 58.54 L257.20 58.90 L257.70 59.26 L258.20 59.61 L258.70 59.97 L259.20 60.33 L259.70 60.69 L260.20 61.05 L260.70 61.41 L261.20 61.76 L261.70 62.12 L262.20 62.47 L262.70 62.82 L263.20 63.17 L263.70 63.51 L264.20 63.85 L264.70 64.19 L265.20 64.53 L265.70 64.86 L266.20 65.20 L266.70 65.53 L267.20 65.86 L267.70 66.18 L268.20 66.51 L268.70 66.84 L269.20 67.16 L269.70 67.49 L270.20 67.81 L270.70 68.14 L271.20 68.46 L271.70 68.78 L272.20 69.10 L272.70 69.43 L273.20 69.75 L273.70 70.07 L274.20 70.39 L274.70 70.71 L275.20 71.03 L275.70 71.36 L276.20 71.68 L276.70 72.00 L277.20 72.32 L277.70 72.65 L278.20 72.97 L278.70 73.30 L279.20 73.62 L279.70 73.94 L280.20 74.27 L280.70 74.59 L281.20 74.92 L281.70 75.24 L282.20 75.57 L282.70 75.89 L283.20 76.22 L283.70 76.54 L284.20 76.87 L284.70 77.19 L285.20 77.52 L285.70 77.84 L286.20 78.17 L286.70 78.49 L287.20 78.82 L287.70 79.14 L288.20 79.47 L288.70 79.79 L289.20 80.12 L289.70 80.44 L290.20 80.76 L290.70 81.07 L291.20 81.39 L291.70 81.71 L292.10 82.00" stroke="#141470" stroke-width="1.1" fill="none" stroke-linejoin="round"/>
<text x="50.5" y="20.0" font-family='"Liberation Sans", sans-serif' font-size="11" font-weight="normal" text-anchor="middle" fill="#222" >a</text>
<text x="179.8" y="261.5" font-family='"Liberation Serif", serif' font-size="10" font-weight="bold" text-anchor="middle" fill="#111" >E (V vs. Ag/AgCl)</text>
<text transform="translate(9.4,111) rotate(-90)" font-family='"Liberation Serif", serif' font-size="12" text-anchor="middle" fill="#222">I(&#956;A)</text>
<path d="M211.4 149.0H233.6" stroke="#000" stroke-width="1.6"/>
<text x="235.8" y="152.9" font-family='"Liberation Serif", serif' font-size="9.6" font-weight="normal" text-anchor="start" fill="#222" >PBS1X</text>
<path d="M211.4 161.0H233.6" stroke="#ee1111" stroke-width="1.6"/>
<text x="235.8" y="164.9" font-family='"Liberation Serif", serif' font-size="9.6" font-weight="normal" text-anchor="start" fill="#222" >PBS 5X</text>
<path d="M211.4 173.0H233.6" stroke="#1010f0" stroke-width="1.6"/>
<text x="235.8" y="176.9" font-family='"Liberation Serif", serif' font-size="9.6" font-weight="normal" text-anchor="start" fill="#222" >PBS 10X</text>
<path d="M211.4 185.0H233.6" stroke="#f010f0" stroke-width="1.6"/>
<text x="235.8" y="188.9" font-family='"Liberation Serif", serif' font-size="9.6" font-weight="normal" text-anchor="start" fill="#222" >B-R</text>
<path d="M211.4 197.0H233.6" stroke="#108010" stroke-width="1.6"/>
<text x="235.8" y="200.9" font-family='"Liberation Serif", serif' font-size="9.6" font-weight="normal" text-anchor="start" fill="#222" >Glycine</text>
<path d="M211.4 209.0H233.6" stroke="#141470" stroke-width="1.6"/>
<text x="235.8" y="212.9" font-family='"Liberation Serif", serif' font-size="9.6" font-weight="normal" text-anchor="start" fill="#222" >KH<tspan font-size="5.5" dy="2.6">2</tspan><tspan dy="-2.6">PO</tspan><tspan font-size="5.5" dy="2.6">4</tspan><tspan dy="-2.6">/Na</tspan><tspan font-size="5.5" dy="2.6">2</tspan><tspan dy="-2.6">HPO</tspan><tspan font-size="5.5" dy="2.6">4</tspan></text>
<rect x="371.2" y="6.2" width="278.9" height="224.9" fill="none" stroke="#505050" stroke-width="1.4"/>
<text transform="translate(387.70,245.20) scale(1.000,1)" font-family='"Liberation Sans", sans-serif' font-size="9.6" text-anchor="middle" fill="#222">-0.8</text>
<text transform="translate(453.30,245.20) scale(1.000,1)" font-family='"Liberation Sans", sans-serif' font-size="9.6" text-anchor="middle" fill="#222">-1.0</text>
<text transform="translate(518.90,245.20) scale(1.000,1)" font-family='"Liberation Sans", sans-serif' font-size="9.6" text-anchor="middle" fill="#222">-1.2</text>
<text transform="translate(584.50,245.20) scale(1.000,1)" font-family='"Liberation Sans", sans-serif' font-size="9.6" text-anchor="middle" fill="#222">-1.4</text>
<text transform="translate(650.10,245.20) scale(1.000,1)" font-family='"Liberation Sans", sans-serif' font-size="9.6" text-anchor="middle" fill="#222">-1.6</text>
<text transform="translate(363.40,29.50) scale(1.000,1)" font-family='"Liberation Sans", sans-serif' font-size="9.6" text-anchor="end" fill="#222">-40</text>
<text transform="translate(363.40,70.40) scale(1.000,1)" font-family='"Liberation Sans", sans-serif' font-size="9.6" text-anchor="end" fill="#222">-50</text>
<text transform="translate(363.40,111.30) scale(1.000,1)" font-family='"Liberation Sans", sans-serif' font-size="9.6" text-anchor="end" fill="#222">-60</text>
<text transform="translate(363.40,152.20) scale(1.000,1)" font-family='"Liberation Sans", sans-serif' font-size="9.6" text-anchor="end" fill="#222">-70</text>
<text transform="translate(363.40,193.10) scale(1.000,1)" font-family='"Liberation Sans", sans-serif' font-size="9.6" text-anchor="end" fill="#222">-80</text>
<text transform="translate(363.40,234.00) scale(1.000,1)" font-family='"Liberation Sans", sans-serif' font-size="9.6" text-anchor="end" fill="#222">-90</text>
<path d="M387.7 231.1v4.5 M453.3 231.1v4.5 M518.9 231.1v4.5 M584.5 231.1v4.5 M650.1 231.1v4.5 M420.5 231.1v2.5 M486.1 231.1v2.5 M551.7 231.1v2.5 M617.3 231.1v2.5 M371.2 26.4h-4.6 M371.2 67.3h-4.6 M371.2 108.2h-4.6 M371.2 149.1h-4.6 M371.2 190.0h-4.6 M371.2 230.9h-4.6 M371.2 5.9h-2.5 M371.2 46.8h-2.5 M371.2 87.8h-2.5 M371.2 128.7h-2.5 M371.2 169.6h-2.5 M371.2 210.4h-2.5" stroke="#505050" stroke-width="1.2" fill="none"/>
<path d="M391.20 36.20 L391.70 36.16 L392.20 36.12 L392.70 36.09 L393.20 36.06 L393.70 36.03 L394.20 36.00 L394.70 35.98 L395.20 35.96 L395.70 35.93 L396.20 35.92 L396.70 35.90 L397.20 35.88 L397.70 35.87 L398.20 35.86 L398.70 35.85 L399.20 35.84 L399.70 35.83 L400.20 35.82 L400.70 35.82 L401.20 35.81 L401.70 35.81 L402.20 35.81 L402.70 35.80 L403.20 35.80 L403.70 35.80 L404.20 35.80 L404.70 35.81 L405.20 35.82 L405.70 35.83 L406.20 35.86 L406.70 35.90 L407.20 35.95 L407.70 36.02 L408.20 36.11 L408.70 36.21 L409.20 36.32 L409.70 36.45 L410.20 36.58 L410.70 36.74 L411.20 36.90 L411.70 37.07 L412.20 37.25 L412.70 37.44 L413.20 37.64 L413.70 37.84 L414.20 38.05 L414.70 38.27 L415.20 38.49 L415.70 38.71 L416.20 38.93 L416.70 39.16 L417.20 39.39 L417.70 39.62 L418.20 39.85 L418.70 40.08 L419.20 40.32 L419.70 40.56 L420.20 40.82 L420.70 41.08 L421.20 41.35 L421.70 41.64 L422.20 41.94 L422.70 42.25 L423.20 42.58 L423.70 42.91 L424.20 43.25 L424.70 43.60 L425.20 43.96 L425.70 44.33 L426.20 44.70 L426.70 45.08 L427.20 45.46 L427.70 45.84 L428.20 46.23 L428.70 46.62 L429.20 47.01 L429.70 47.41 L430.20 47.80 L430.70 48.19 L431.20 48.58 L431.70 48.97 L432.20 49.37 L432.70 49.76 L433.20 50.15 L433.70 50.56 L434.20 50.97 L434.70 51.39 L435.20 51.82 L435.70 52.26 L436.20 52.70 L436.70 53.15 L437.20 53.60 L437.70 54.05 L438.20 54.50 L438.70 54.94 L439.20 55.38 L439.70 55.80 L440.20 56.22 L440.70 56.63 L441.20 57.02 L441.70 57.39 L442.20 57.74 L442.70 58.08 L443.20 58.40 L443.70 58.70 L444.20 58.99 L444.70 59.27 L445.20 59.54 L445.70 59.80 L446.20 60.05 L446.70 60.30 L447.20 60.53 L447.70 60.76 L448.20 60.98 L448.70 61.18 L449.20 61.38 L449.70 61.55 L450.20 61.71 L450.70 61.86 L451.20 61.99 L451.70 62.11 L452.20 62.21 L452.70 62.30 L453.20 62.39 L453.70 62.47 L454.20 62.55 L454.70 62.62 L455.20 62.69 L455.70 62.76 L456.20 62.82 L456.70 62.88 L457.20 62.93 L457.70 62.98 L458.20 63.03 L458.70 63.07 L459.20 63.10 L459.70 63.13 L460.20 63.15 L460.70 63.17 L461.20 63.18 L461.70 63.18 L462.20 63.18 L462.70 63.17 L463.20 63.16 L463.70 63.14 L464.20 63.12 L464.70 63.10 L465.20 63.07 L465.70 63.03 L466.20 63.00 L466.70 62.96 L467.20 62.92 L467.70 62.88 L468.20 62.83 L468.70 62.78 L469.20 62.74 L469.70 62.69 L470.20 62.64 L470.70 62.59 L471.20 62.54 L471.70 62.49 L472.20 62.44 L472.70 62.39 L473.20 62.34 L473.70 62.29 L474.20 62.24 L474.70 62.20 L475.20 62.15 L475.70 62.10 L476.20 62.05 L476.70 61.99 L477.20 61.94 L477.70 61.88 L478.20 61.82 L478.70 61.76 L479.20 61.70 L479.70 61.63 L480.20 61.57 L480.70 61.51 L481.20 61.44 L481.70 61.38 L482.20 61.32 L482.70 61.26 L483.20 61.20 L483.70 61.15 L484.20 61.10 L484.70 61.05 L485.20 61.00 L485.70 60.96 L486.20 60.93 L486.70 60.89 L487.20 60.87 L487.70 60.85 L488.20 60.83 L488.70 60.83 L489.20 60.83 L489.70 60.84 L490.20 60.86 L490.70 60.89 L491.20 60.94 L491.70 60.99 L492.20 61.06 L492.70 61.13 L493.20 61.22 L493.70 61.31 L494.20 61.41 L494.70 61.51 L495.20 61.63 L495.70 61.74 L496.20 61.87 L496.70 61.99 L497.20 62.12 L497.70 62.25 L498.20 62.39 L498.70 62.52 L499.20 62.66 L499.70 62.80 L500.20 62.95 L500.70 63.10 L501.20 63.26 L501.70 63.44 L502.20 63.62 L502.70 63.81 L503.20 64.02 L503.70 64.23 L504.20 64.45 L504.70 64.67 L505.20 64.91 L505.70 65.14 L506.20 65.39 L506.70 65.63 L507.20 65.88 L507.70 66.12 L508.20 66.37 L508.70 66.61 L509.20 66.85 L509.70 67.09 L510.20 67.32 L510.70 67.55 L511.20 67.78 L511.70 68.00 L512.20 68.23 L512.70 68.45 L513.20 68.67 L513.70 68.89 L514.20 69.10 L514.70 69.32 L515.20 69.54 L515.70 69.76 L516.20 69.98 L516.70 70.20 L517.20 70.41 L517.70 70.63 L518.20 70.85 L518.70 71.07 L519.20 71.30 L519.70 71.52 L520.20 71.74 L520.70 71.97 L521.20 72.19 L521.70 72.42 L522.20 72.64 L522.70 72.87 L523.20 73.10 L523.70 73.34 L524.20 73.57 L524.70 73.81 L525.20 74.04 L525.70 74.28 L526.20 74.52 L526.70 74.77 L527.20 75.01 L527.70 75.26 L528.20 75.51 L528.70 75.76 L529.20 76.01 L529.70 76.26 L530.20 76.52 L530.70 76.77 L531.20 77.03 L531.70 77.28 L532.20 77.54 L532.70 77.79 L533.20 78.05 L533.70 78.31 L534.20 78.56 L534.70 78.82 L535.20 79.08 L535.70 79.33 L536.20 79.59 L536.70 79.84 L537.20 80.09 L537.70 80.35 L538.20 80.60 L538.70 80.84 L539.20 81.09 L539.70 81.34 L540.20 81.58 L540.70 81.83 L541.20 82.07 L541.70 82.31 L542.20 82.55 L542.70 82.79 L543.20 83.03 L543.70 83.27 L544.20 83.51 L544.70 83.75 L545.20 83.99 L545.70 84.23 L546.20 84.47 L546.70 84.72 L547.20 84.96 L547.70 85.21 L548.20 85.46 L548.70 85.71 L549.20 85.97 L549.70 86.23 L550.20 86.49 L550.70 86.75 L551.20 87.02 L551.70 87.29 L552.20 87.57 L552.70 87.85 L553.20 88.13 L553.70 88.42 L554.20 88.72 L554.70 89.01 L555.20 89.31 L555.70 89.62 L556.20 89.93 L556.70 90.24 L557.20 90.55 L557.70 90.87 L558.20 91.18 L558.70 91.50 L559.20 91.82 L559.70 92.14 L560.20 92.47 L560.70 92.79 L561.20 93.12 L561.70 93.44 L562.20 93.77 L562.70 94.10 L563.20 94.43 L563.70 94.76 L564.20 95.09 L564.70 95.43 L565.20 95.77 L565.70 96.11 L566.20 96.45 L566.70 96.80 L567.20 97.15 L567.70 97.50 L568.20 97.86 L568.70 98.22 L569.20 98.58 L569.70 98.95 L570.20 99.32 L570.70 99.70 L571.20 100.08 L571.70 100.47 L572.20 100.87 L572.70 101.27 L573.20 101.69 L573.70 102.11 L574.20 102.55 L574.70 103.00 L575.20 103.46 L575.70 103.92 L576.20 104.40 L576.70 104.88 L577.20 105.37 L577.70 105.86 L578.20 106.35 L578.70 106.85 L579.20 107.34 L579.70 107.83 L580.20 108.32 L580.70 108.81 L581.20 109.29 L581.70 109.76 L582.20 110.22 L582.70 110.68 L583.20 111.12 L583.70 111.56 L584.20 111.97 L584.70 112.38 L585.20 112.77 L585.70 113.14 L586.20 113.50 L586.70 113.84 L587.20 114.17 L587.70 114.49 L588.20 114.79 L588.70 115.09 L589.20 115.39 L589.70 115.67 L590.20 115.96 L590.70 116.24 L591.20 116.53 L591.70 116.81 L592.20 117.10 L592.70 117.40 L593.20 117.69 L593.70 117.99 L594.20 118.30 L594.70 118.60 L595.20 118.91 L595.70 119.22 L596.20 119.53 L596.70 119.83 L597.20 120.14 L597.70 120.44 L598.20 120.73 L598.70 121.02 L599.20 121.30 L599.70 121.58 L600.20 121.84 L600.70 122.10 L601.20 122.36 L601.70 122.60 L602.20 122.84 L602.70 123.07 L603.20 123.30 L603.70 123.53 L604.20 123.76 L604.70 123.98 L605.20 124.21 L605.70 124.43 L606.20 124.66 L606.70 124.90 L607.20 125.14 L607.70 125.38 L608.20 125.63 L608.70 125.89 L609.20 126.16 L609.70 126.44 L610.20 126.73 L610.70 127.04 L611.20 127.35 L611.70 127.68 L612.20 128.02 L612.70 128.37 L613.20 128.73 L613.70 129.11 L614.20 129.49 L614.70 129.89 L615.20 130.29 L615.70 130.71 L616.20 131.13 L616.70 131.56 L617.20 131.99 L617.70 132.43 L618.20 132.87 L618.70 133.32 L619.20 133.78 L619.60 134.20" stroke="#141470" stroke-width="1.1" fill="none" stroke-linejoin="round"/>
<path d="M391.20 23.20 L391.70 23.35 L392.20 23.49 L392.70 23.62 L393.20 23.75 L393.70 23.88 L394.20 24.02 L394.70 24.15 L395.20 24.28 L395.70 24.41 L396.20 24.53 L396.70 24.66 L397.20 24.78 L397.70 24.91 L398.20 25.03 L398.70 25.15 L399.20 25.27 L399.70 25.38 L400.20 25.50 L400.70 25.61 L401.20 25.72 L401.70 25.83 L402.20 25.94 L402.70 26.04 L403.20 26.14 L403.70 26.25 L404.20 26.35 L404.70 26.44 L405.20 26.54 L405.70 26.63 L406.20 26.72 L406.70 26.81 L407.20 26.90 L407.70 26.98 L408.20 27.07 L408.70 27.15 L409.20 27.23 L409.70 27.31 L410.20 27.39 L410.70 27.46 L411.20 27.54 L411.70 27.61 L412.20 27.69 L412.70 27.76 L413.20 27.83 L413.70 27.91 L414.20 27.98 L414.70 28.05 L415.20 28.12 L415.70 28.19 L416.20 28.26 L416.70 28.34 L417.20 28.41 L417.70 28.48 L418.20 28.55 L418.70 28.63 L419.20 28.70 L419.70 28.77 L420.20 28.85 L420.70 28.92 L421.20 29.00 L421.70 29.07 L422.20 29.14 L422.70 29.21 L423.20 29.29 L423.70 29.36 L424.20 29.43 L424.70 29.51 L425.20 29.58 L425.70 29.65 L426.20 29.72 L426.70 29.79 L427.20 29.87 L427.70 29.94 L428.20 30.01 L428.70 30.08 L429.20 30.16 L429.70 30.23 L430.20 30.30 L430.70 30.38 L431.20 30.45 L431.70 30.52 L432.20 30.60 L432.70 30.67 L433.20 30.74 L433.70 30.82 L434.20 30.89 L434.70 30.96 L435.20 31.03 L435.70 31.10 L436.20 31.18 L436.70 31.25 L437.20 31.32 L437.70 31.39 L438.20 31.46 L438.70 31.53 L439.20 31.60 L439.70 31.68 L440.20 31.75 L440.70 31.82 L441.20 31.90 L441.70 31.97 L442.20 32.05 L442.70 32.13 L443.20 32.21 L443.70 32.29 L444.20 32.38 L444.70 32.46 L445.20 32.55 L445.70 32.64 L446.20 32.73 L446.70 32.83 L447.20 32.93 L447.70 33.03 L448.20 33.14 L448.70 33.25 L449.20 33.37 L449.70 33.48 L450.20 33.61 L450.70 33.73 L451.20 33.86 L451.70 33.98 L452.20 34.12 L452.70 34.25 L453.20 34.38 L453.70 34.52 L454.20 34.65 L454.70 34.78 L455.20 34.92 L455.70 35.05 L456.20 35.19 L456.70 35.32 L457.20 35.45 L457.70 35.58 L458.20 35.71 L458.70 35.83 L459.20 35.96 L459.70 36.08 L460.20 36.19 L460.70 36.31 L461.20 36.42 L461.70 36.53 L462.20 36.64 L462.70 36.75 L463.20 36.85 L463.70 36.96 L464.20 37.06 L464.70 37.17 L465.20 37.27 L465.70 37.38 L466.20 37.48 L466.70 37.58 L467.20 37.69 L467.70 37.80 L468.20 37.90 L468.70 38.01 L469.20 38.12 L469.70 38.23 L470.20 38.35 L470.70 38.46 L471.20 38.57 L471.70 38.69 L472.20 38.80 L472.70 38.91 L473.20 39.03 L473.70 39.14 L474.20 39.26 L474.70 39.37 L475.20 39.49 L475.70 39.60 L476.20 39.72 L476.70 39.84 L477.20 39.96 L477.70 40.08 L478.20 40.20 L478.70 40.33 L479.20 40.46 L479.70 40.58 L480.20 40.72 L480.70 40.85 L481.20 40.99 L481.70 41.12 L482.20 41.27 L482.70 41.41 L483.20 41.56 L483.70 41.71 L484.20 41.86 L484.70 42.02 L485.20 42.18 L485.70 42.35 L486.20 42.52 L486.70 42.69 L487.20 42.87 L487.70 43.04 L488.20 43.23 L488.70 43.41 L489.20 43.60 L489.70 43.79 L490.20 43.99 L490.70 44.19 L491.20 44.39 L491.70 44.59 L492.20 44.80 L492.70 45.01 L493.20 45.22 L493.70 45.44 L494.20 45.65 L494.70 45.87 L495.20 46.10 L495.70 46.32 L496.20 46.55 L496.70 46.78 L497.20 47.01 L497.70 47.25 L498.20 47.48 L498.70 47.72 L499.20 47.96 L499.70 48.21 L500.20 48.46 L500.70 48.71 L501.20 48.97 L501.70 49.23 L502.20 49.49 L502.70 49.76 L503.20 50.04 L503.70 50.33 L504.20 50.62 L504.70 50.92 L505.20 51.22 L505.70 51.54 L506.20 51.86 L506.70 52.20 L507.20 52.54 L507.70 52.90 L508.20 53.27 L508.70 53.66 L509.20 54.07 L509.70 54.49 L510.20 54.94 L510.70 55.40 L511.20 55.89 L511.70 56.38 L512.20 56.90 L512.70 57.43 L513.20 57.97 L513.70 58.52 L514.20 59.09 L514.70 59.66 L515.20 60.25 L515.70 60.85 L516.20 61.46 L516.70 62.08 L517.20 62.72 L517.70 63.38 L518.20 64.05 L518.70 64.74 L519.20 65.44 L519.70 66.17 L520.20 66.91 L520.70 67.68 L521.20 68.46 L521.70 69.26 L522.20 70.08 L522.70 70.92 L523.20 71.79 L523.70 72.68 L524.20 73.61 L524.70 74.57 L525.20 75.57 L525.70 76.63 L526.20 77.76 L526.70 78.97 L527.20 80.27 L527.70 81.67 L528.20 83.19 L528.70 84.79 L529.20 86.45 L529.70 88.13 L530.20 89.80 L530.70 91.44 L531.20 93.04 L531.70 94.60 L532.20 96.13 L532.70 97.66 L533.20 99.20 L533.70 100.76 L534.20 102.35 L534.70 104.00 L535.20 105.71 L535.70 107.48 L536.20 109.32 L536.70 111.21 L537.20 113.16 L537.70 115.15 L538.20 117.18 L538.70 119.22 L539.20 121.27 L539.70 123.32 L540.20 125.35 L540.70 127.35 L541.20 129.32 L541.70 131.25 L542.20 133.13 L542.70 134.97 L543.20 136.78 L543.70 138.55 L544.20 140.30 L544.70 142.04 L545.20 143.77 L545.70 145.51 L546.20 147.26 L546.70 149.04 L547.20 150.86 L547.70 152.70 L548.20 154.58 L548.70 156.48 L549.20 158.38 L549.70 160.27 L550.20 162.13 L550.70 163.93 L551.20 165.66 L551.70 167.30 L552.20 168.85 L552.70 170.31 L553.20 171.69 L553.70 172.98 L554.20 174.21 L554.70 175.37 L555.20 176.46 L555.70 177.49 L556.20 178.46 L556.70 179.37 L557.20 180.24 L557.70 181.07 L558.20 181.86 L558.70 182.61 L559.20 183.32 L559.70 183.96 L560.20 184.52 L560.70 184.98 L561.20 185.32 L561.70 185.54 L562.20 185.64 L562.70 185.62 L563.20 185.48 L563.70 185.26 L564.20 184.95 L564.70 184.56 L565.20 184.12 L565.70 183.62 L566.20 183.08 L566.70 182.48 L567.20 181.82 L567.70 181.09 L568.20 180.27 L568.70 179.36 L569.20 178.33 L569.70 177.22 L570.20 176.01 L570.70 174.75 L571.20 173.43 L571.70 172.07 L572.20 170.68 L572.70 169.26 L573.20 167.81 L573.70 166.31 L574.20 164.76 L574.70 163.17 L575.20 161.55 L575.70 159.90 L576.20 158.23 L576.70 156.55 L577.20 154.88 L577.70 153.22 L578.20 151.59 L578.70 149.99 L579.20 148.43 L579.70 146.92 L580.20 145.45 L580.70 144.02 L581.20 142.63 L581.70 141.26 L582.20 139.91 L582.70 138.58 L583.20 137.26 L583.70 135.97 L584.20 134.70 L584.70 133.47 L585.20 132.27 L585.70 131.11 L586.20 130.01 L586.70 128.95 L587.20 127.95 L587.70 127.00 L588.20 126.11 L588.70 125.26 L589.20 124.45 L589.70 123.67 L590.20 122.91 L590.70 122.16 L591.20 121.41 L591.70 120.68 L592.20 119.97 L592.70 119.27 L593.20 118.60 L593.70 117.95 L594.20 117.33 L594.70 116.74 L595.20 116.19 L595.70 115.68 L596.20 115.22 L596.70 114.81 L597.20 114.45 L597.70 114.15 L598.20 113.91 L598.70 113.73 L599.20 113.60 L599.70 113.52 L600.20 113.48 L600.70 113.48 L601.20 113.50 L601.70 113.54 L602.20 113.59 L602.70 113.66 L603.20 113.74 L603.70 113.82 L604.20 113.92 L604.70 114.02 L605.20 114.13 L605.70 114.24 L606.20 114.36 L606.70 114.50 L607.20 114.64 L607.70 114.79 L608.20 114.96 L608.70 115.15 L609.20 115.37 L609.70 115.62 L610.20 115.90 L610.70 116.21 L611.20 116.54 L611.70 116.91 L612.20 117.31 L612.70 117.73 L613.20 118.18 L613.70 118.66 L614.20 119.15 L614.70 119.67 L615.20 120.22 L615.70 120.78 L616.20 121.36 L616.70 121.95 L617.20 122.55 L617.70 123.17 L618.20 123.79 L618.70 124.42 L619.20 125.10 L619.60 125.70" stroke="#108010" stroke-width="1.1" fill="none" stroke-linejoin="round"/>
<path d="M391.20 24.80 L391.70 24.91 L392.20 25.02 L392.70 25.12 L393.20 25.22 L393.70 25.32 L394.20 25.41 L394.70 25.51 L395.20 25.61 L395.70 25.71 L396.20 25.80 L396.70 25.90 L397.20 25.99 L397.70 26.08 L398.20 26.17 L398.70 26.26 L399.20 26.34 L399.70 26.43 L400.20 26.51 L400.70 26.59 L401.20 26.67 L401.70 26.75 L402.20 26.83 L402.70 26.91 L403.20 26.98 L403.70 27.05 L404.20 27.12 L404.70 27.19 L405.20 27.26 L405.70 27.33 L406.20 27.39 L406.70 27.46 L407.20 27.53 L407.70 27.60 L408.20 27.67 L408.70 27.74 L409.20 27.80 L409.70 27.87 L410.20 27.94 L410.70 28.01 L411.20 28.07 L411.70 28.13 L412.20 28.20 L412.70 28.26 L413.20 28.31 L413.70 28.37 L414.20 28.42 L414.70 28.46 L415.20 28.51 L415.70 28.55 L416.20 28.58 L416.70 28.61 L417.20 28.64 L417.70 28.66 L418.20 28.67 L418.70 28.68 L419.20 28.69 L419.70 28.70 L420.20 28.70 L420.70 28.70 L421.20 28.70 L421.70 28.70 L422.20 28.70 L422.70 28.70 L423.20 28.70 L423.70 28.70 L424.20 28.70 L424.70 28.70 L425.20 28.70 L425.70 28.70 L426.20 28.70 L426.70 28.70 L427.20 28.70 L427.70 28.70 L428.20 28.70 L428.70 28.70 L429.20 28.70 L429.70 28.70 L430.20 28.70 L430.70 28.70 L431.20 28.70 L431.70 28.70 L432.20 28.70 L432.70 28.71 L433.20 28.72 L433.70 28.73 L434.20 28.75 L434.70 28.77 L435.20 28.80 L435.70 28.83 L436.20 28.88 L436.70 28.92 L437.20 28.98 L437.70 29.03 L438.20 29.10 L438.70 29.16 L439.20 29.23 L439.70 29.31 L440.20 29.38 L440.70 29.46 L441.20 29.55 L441.70 29.63 L442.20 29.72 L442.70 29.81 L443.20 29.90 L443.70 30.00 L444.20 30.10 L444.70 30.22 L445.20 30.34 L445.70 30.47 L446.20 30.61 L446.70 30.77 L447.20 30.93 L447.70 31.10 L448.20 31.29 L448.70 31.48 L449.20 31.67 L449.70 31.88 L450.20 32.09 L450.70 32.30 L451.20 32.52 L451.70 32.75 L452.20 32.98 L452.70 33.21 L453.20 33.44 L453.70 33.67 L454.20 33.91 L454.70 34.14 L455.20 34.38 L455.70 34.61 L456.20 34.85 L456.70 35.09 L457.20 35.33 L457.70 35.57 L458.20 35.82 L458.70 36.08 L459.20 36.33 L459.70 36.59 L460.20 36.86 L460.70 37.13 L461.20 37.41 L461.70 37.69 L462.20 37.97 L462.70 38.26 L463.20 38.55 L463.70 38.85 L464.20 39.16 L464.70 39.46 L465.20 39.78 L465.70 40.10 L466.20 40.42 L466.70 40.75 L467.20 41.09 L467.70 41.43 L468.20 41.79 L468.70 42.15 L469.20 42.52 L469.70 42.90 L470.20 43.29 L470.70 43.69 L471.20 44.09 L471.70 44.51 L472.20 44.93 L472.70 45.35 L473.20 45.79 L473.70 46.23 L474.20 46.68 L474.70 47.14 L475.20 47.61 L475.70 48.09 L476.20 48.58 L476.70 49.08 L477.20 49.58 L477.70 50.08 L478.20 50.58 L478.70 51.07 L479.20 51.55 L479.70 52.03 L480.20 52.50 L480.70 52.97 L481.20 53.44 L481.70 53.91 L482.20 54.39 L482.70 54.87 L483.20 55.36 L483.70 55.86 L484.20 56.37 L484.70 56.91 L485.20 57.46 L485.70 58.03 L486.20 58.63 L486.70 59.26 L487.20 59.91 L487.70 60.60 L488.20 61.31 L488.70 62.04 L489.20 62.80 L489.70 63.59 L490.20 64.39 L490.70 65.22 L491.20 66.06 L491.70 66.91 L492.20 67.78 L492.70 68.65 L493.20 69.54 L493.70 70.43 L494.20 71.34 L494.70 72.26 L495.20 73.20 L495.70 74.17 L496.20 75.17 L496.70 76.21 L497.20 77.30 L497.70 78.46 L498.20 79.69 L498.70 81.02 L499.20 82.44 L499.70 83.96 L500.20 85.57 L500.70 87.27 L501.20 89.04 L501.70 90.87 L502.20 92.75 L502.70 94.69 L503.20 96.67 L503.70 98.69 L504.20 100.74 L504.70 102.83 L505.20 104.94 L505.70 107.07 L506.20 109.21 L506.70 111.35 L507.20 113.50 L507.70 115.64 L508.20 117.79 L508.70 119.93 L509.20 122.09 L509.70 124.25 L510.20 126.41 L510.70 128.59 L511.20 130.77 L511.70 132.95 L512.20 135.14 L512.70 137.33 L513.20 139.52 L513.70 141.71 L514.20 143.90 L514.70 146.09 L515.20 148.29 L515.70 150.50 L516.20 152.72 L516.70 154.95 L517.20 157.19 L517.70 159.43 L518.20 161.65 L518.70 163.83 L519.20 165.97 L519.70 168.04 L520.20 170.04 L520.70 171.96 L521.20 173.81 L521.70 175.58 L522.20 177.29 L522.70 178.93 L523.20 180.53 L523.70 182.06 L524.20 183.54 L524.70 184.96 L525.20 186.33 L525.70 187.64 L526.20 188.90 L526.70 190.13 L527.20 191.34 L527.70 192.53 L528.20 193.71 L528.70 194.87 L529.20 195.99 L529.70 197.06 L530.20 198.05 L530.70 198.96 L531.20 199.75 L531.70 200.42 L532.20 200.94 L532.70 201.31 L533.20 201.53 L533.70 201.60 L534.20 201.54 L534.70 201.36 L535.20 201.08 L535.70 200.71 L536.20 200.26 L536.70 199.75 L537.20 199.18 L537.70 198.57 L538.20 197.91 L538.70 197.22 L539.20 196.50 L539.70 195.73 L540.20 194.92 L540.70 194.04 L541.20 193.08 L541.70 192.04 L542.20 190.91 L542.70 189.70 L543.20 188.41 L543.70 187.06 L544.20 185.66 L544.70 184.22 L545.20 182.75 L545.70 181.27 L546.20 179.77 L546.70 178.26 L547.20 176.73 L547.70 175.17 L548.20 173.58 L548.70 171.95 L549.20 170.29 L549.70 168.60 L550.20 166.88 L550.70 165.14 L551.20 163.40 L551.70 161.66 L552.20 159.92 L552.70 158.20 L553.20 156.51 L553.70 154.85 L554.20 153.21 L554.70 151.61 L555.20 150.03 L555.70 148.46 L556.20 146.91 L556.70 145.36 L557.20 143.82 L557.70 142.31 L558.20 140.85 L558.70 139.45 L559.20 138.13 L559.70 136.90 L560.20 135.79 L560.70 134.80 L561.20 133.93 L561.70 133.16 L562.20 132.49 L562.70 131.88 L563.20 131.34 L563.70 130.85 L564.20 130.40 L564.70 129.98 L565.20 129.59 L565.70 129.22 L566.20 128.88 L566.70 128.55 L567.20 128.23 L567.70 127.92 L568.20 127.62 L568.70 127.33 L569.20 127.05 L569.70 126.79 L570.20 126.55 L570.70 126.33 L571.20 126.15 L571.70 126.01 L572.20 125.90 L572.70 125.83 L573.20 125.81 L573.70 125.82 L574.20 125.86 L574.70 125.93 L575.20 126.02 L575.70 126.14 L576.20 126.28 L576.70 126.43 L577.20 126.60 L577.70 126.78 L578.20 126.98 L578.70 127.18 L579.20 127.40 L579.70 127.62 L580.20 127.86 L580.70 128.11 L581.20 128.38 L581.70 128.68 L582.20 129.01 L582.70 129.37 L583.20 129.75 L583.70 130.17 L584.20 130.61 L584.70 131.08 L585.20 131.57 L585.70 132.08 L586.20 132.61 L586.70 133.15 L587.20 133.70 L587.70 134.27 L588.20 134.84 L588.70 135.42 L589.20 136.01 L589.70 136.60 L590.20 137.18 L590.70 137.77 L591.20 138.36 L591.70 138.96 L592.20 139.56 L592.70 140.18 L593.20 140.81 L593.70 141.45 L594.20 142.10 L594.70 142.77 L595.20 143.46 L595.70 144.15 L596.20 144.85 L596.70 145.55 L597.20 146.27 L597.70 146.98 L598.20 147.70 L598.70 148.42 L599.20 149.14 L599.70 149.86 L600.20 150.57 L600.70 151.28 L601.20 151.99 L601.70 152.69 L602.20 153.38 L602.70 154.07 L603.20 154.76 L603.70 155.45 L604.20 156.14 L604.70 156.83 L605.20 157.52 L605.70 158.21 L606.20 158.90 L606.70 159.58 L607.20 160.25 L607.70 160.92 L608.20 161.58 L608.70 162.22 L609.20 162.85 L609.70 163.47 L610.20 164.07 L610.70 164.66 L611.20 165.24 L611.70 165.81 L612.20 166.36 L612.70 166.91 L613.20 167.45 L613.70 167.98 L614.20 168.50 L614.70 169.02 L615.20 169.53 L615.70 170.02 L616.20 170.51 L616.70 170.99 L617.20 171.46 L617.70 171.92 L618.20 172.36 L618.70 172.79 L619.20 173.23 L619.60 173.60" stroke="#f010f0" stroke-width="1.1" fill="none" stroke-linejoin="round"/>
<path d="M391.20 21.80 L391.70 22.20 L392.20 22.56 L392.70 22.91 L393.20 23.26 L393.70 23.60 L394.20 23.94 L394.70 24.27 L395.20 24.60 L395.70 24.91 L396.20 25.22 L396.70 25.51 L397.20 25.79 L397.70 26.06 L398.20 26.32 L398.70 26.57 L399.20 26.80 L399.70 27.03 L400.20 27.24 L400.70 27.45 L401.20 27.65 L401.70 27.85 L402.20 28.04 L402.70 28.22 L403.20 28.40 L403.70 28.57 L404.20 28.74 L404.70 28.91 L405.20 29.08 L405.70 29.24 L406.20 29.40 L406.70 29.56 L407.20 29.72 L407.70 29.87 L408.20 30.03 L408.70 30.19 L409.20 30.35 L409.70 30.51 L410.20 30.67 L410.70 30.83 L411.20 31.00 L411.70 31.17 L412.20 31.34 L412.70 31.51 L413.20 31.69 L413.70 31.87 L414.20 32.05 L414.70 32.23 L415.20 32.42 L415.70 32.60 L416.20 32.79 L416.70 32.98 L417.20 33.16 L417.70 33.35 L418.20 33.54 L418.70 33.72 L419.20 33.91 L419.70 34.09 L420.20 34.27 L420.70 34.45 L421.20 34.63 L421.70 34.81 L422.20 34.98 L422.70 35.15 L423.20 35.32 L423.70 35.48 L424.20 35.64 L424.70 35.80 L425.20 35.95 L425.70 36.10 L426.20 36.25 L426.70 36.40 L427.20 36.54 L427.70 36.68 L428.20 36.82 L428.70 36.95 L429.20 37.09 L429.70 37.22 L430.20 37.36 L430.70 37.49 L431.20 37.61 L431.70 37.74 L432.20 37.86 L432.70 37.98 L433.20 38.10 L433.70 38.21 L434.20 38.33 L434.70 38.43 L435.20 38.54 L435.70 38.64 L436.20 38.74 L436.70 38.84 L437.20 38.93 L437.70 39.02 L438.20 39.11 L438.70 39.20 L439.20 39.29 L439.70 39.37 L440.20 39.45 L440.70 39.53 L441.20 39.61 L441.70 39.69 L442.20 39.76 L442.70 39.83 L443.20 39.90 L443.70 39.97 L444.20 40.03 L444.70 40.09 L445.20 40.15 L445.70 40.20 L446.20 40.25 L446.70 40.30 L447.20 40.34 L447.70 40.38 L448.20 40.42 L448.70 40.45 L449.20 40.48 L449.70 40.51 L450.20 40.54 L450.70 40.56 L451.20 40.59 L451.70 40.61 L452.20 40.64 L452.70 40.66 L453.20 40.69 L453.70 40.72 L454.20 40.75 L454.70 40.78 L455.20 40.81 L455.70 40.85 L456.20 40.89 L456.70 40.94 L457.20 40.99 L457.70 41.06 L458.20 41.13 L458.70 41.22 L459.20 41.32 L459.70 41.43 L460.20 41.56 L460.70 41.69 L461.20 41.84 L461.70 41.99 L462.20 42.15 L462.70 42.31 L463.20 42.48 L463.70 42.64 L464.20 42.81 L464.70 42.97 L465.20 43.13 L465.70 43.28 L466.20 43.43 L466.70 43.57 L467.20 43.70 L467.70 43.82 L468.20 43.95 L468.70 44.08 L469.20 44.23 L469.70 44.40 L470.20 44.60 L470.70 44.84 L471.20 45.13 L471.70 45.46 L472.20 45.83 L472.70 46.23 L473.20 46.68 L473.70 47.15 L474.20 47.65 L474.70 48.16 L475.20 48.69 L475.70 49.23 L476.20 49.76 L476.70 50.30 L477.20 50.83 L477.70 51.35 L478.20 51.87 L478.70 52.37 L479.20 52.87 L479.70 53.36 L480.20 53.85 L480.70 54.35 L481.20 54.85 L481.70 55.35 L482.20 55.86 L482.70 56.39 L483.20 56.93 L483.70 57.49 L484.20 58.06 L484.70 58.66 L485.20 59.29 L485.70 59.94 L486.20 60.63 L486.70 61.36 L487.20 62.12 L487.70 62.93 L488.20 63.79 L488.70 64.68 L489.20 65.61 L489.70 66.58 L490.20 67.57 L490.70 68.60 L491.20 69.64 L491.70 70.71 L492.20 71.80 L492.70 72.91 L493.20 74.05 L493.70 75.23 L494.20 76.45 L494.70 77.74 L495.20 79.12 L495.70 80.59 L496.20 82.19 L496.70 83.94 L497.20 85.85 L497.70 87.95 L498.20 90.23 L498.70 92.66 L499.20 95.22 L499.70 97.87 L500.20 100.58 L500.70 103.28 L501.20 105.97 L501.70 108.59 L502.20 111.15 L502.70 113.64 L503.20 116.06 L503.70 118.43 L504.20 120.76 L504.70 123.06 L505.20 125.33 L505.70 127.59 L506.20 129.83 L506.70 132.05 L507.20 134.26 L507.70 136.46 L508.20 138.66 L508.70 140.84 L509.20 143.03 L509.70 145.21 L510.20 147.40 L510.70 149.59 L511.20 151.79 L511.70 153.99 L512.20 156.18 L512.70 158.37 L513.20 160.54 L513.70 162.67 L514.20 164.77 L514.70 166.81 L515.20 168.81 L515.70 170.75 L516.20 172.64 L516.70 174.50 L517.20 176.31 L517.70 178.07 L518.20 179.79 L518.70 181.44 L519.20 183.03 L519.70 184.55 L520.20 186.00 L520.70 187.39 L521.20 188.72 L521.70 190.01 L522.20 191.28 L522.70 192.51 L523.20 193.70 L523.70 194.84 L524.20 195.89 L524.70 196.85 L525.20 197.68 L525.70 198.37 L526.20 198.89 L526.70 199.26 L527.20 199.47 L527.70 199.53 L528.20 199.47 L528.70 199.31 L529.20 199.06 L529.70 198.74 L530.20 198.36 L530.70 197.94 L531.20 197.47 L531.70 196.96 L532.20 196.40 L532.70 195.81 L533.20 195.15 L533.70 194.43 L534.20 193.61 L534.70 192.69 L535.20 191.67 L535.70 190.54 L536.20 189.32 L536.70 188.00 L537.20 186.61 L537.70 185.16 L538.20 183.65 L538.70 182.10 L539.20 180.51 L539.70 178.88 L540.20 177.19 L540.70 175.43 L541.20 173.59 L541.70 171.66 L542.20 169.65 L542.70 167.57 L543.20 165.45 L543.70 163.30 L544.20 161.16 L544.70 159.05 L545.20 156.99 L545.70 155.02 L546.20 153.15 L546.70 151.38 L547.20 149.73 L547.70 148.17 L548.20 146.67 L548.70 145.19 L549.20 143.70 L549.70 142.14 L550.20 140.52 L550.70 138.84 L551.20 137.13 L551.70 135.44 L552.20 133.83 L552.70 132.33 L553.20 130.96 L553.70 129.73 L554.20 128.61 L554.70 127.58 L555.20 126.63 L555.70 125.74 L556.20 124.90 L556.70 124.12 L557.20 123.40 L557.70 122.74 L558.20 122.13 L558.70 121.58 L559.20 121.09 L559.70 120.65 L560.20 120.25 L560.70 119.89 L561.20 119.55 L561.70 119.23 L562.20 118.93 L562.70 118.65 L563.20 118.38 L563.70 118.12 L564.20 117.89 L564.70 117.67 L565.20 117.48 L565.70 117.31 L566.20 117.17 L566.70 117.06 L567.20 116.97 L567.70 116.92 L568.20 116.90 L568.70 116.91 L569.20 116.96 L569.70 117.04 L570.20 117.16 L570.70 117.30 L571.20 117.47 L571.70 117.67 L572.20 117.89 L572.70 118.13 L573.20 118.38 L573.70 118.65 L574.20 118.93 L574.70 119.22 L575.20 119.52 L575.70 119.83 L576.20 120.16 L576.70 120.50 L577.20 120.86 L577.70 121.26 L578.20 121.68 L578.70 122.13 L579.20 122.62 L579.70 123.13 L580.20 123.66 L580.70 124.22 L581.20 124.80 L581.70 125.38 L582.20 125.98 L582.70 126.58 L583.20 127.19 L583.70 127.79 L584.20 128.39 L584.70 128.98 L585.20 129.56 L585.70 130.14 L586.20 130.71 L586.70 131.27 L587.20 131.83 L587.70 132.39 L588.20 132.96 L588.70 133.52 L589.20 134.09 L589.70 134.65 L590.20 135.22 L590.70 135.79 L591.20 136.36 L591.70 136.93 L592.20 137.50 L592.70 138.06 L593.20 138.63 L593.70 139.19 L594.20 139.75 L594.70 140.30 L595.20 140.85 L595.70 141.39 L596.20 141.94 L596.70 142.48 L597.20 143.01 L597.70 143.55 L598.20 144.09 L598.70 144.63 L599.20 145.17 L599.70 145.71 L600.20 146.25 L600.70 146.79 L601.20 147.32 L601.70 147.85 L602.20 148.37 L602.70 148.88 L603.20 149.37 L603.70 149.86 L604.20 150.33 L604.70 150.78 L605.20 151.22 L605.70 151.64 L606.20 152.05 L606.70 152.44 L607.20 152.82 L607.70 153.19 L608.20 153.55 L608.70 153.91 L609.20 154.26 L609.70 154.61 L610.20 154.95 L610.70 155.28 L611.20 155.61 L611.70 155.93 L612.20 156.24 L612.70 156.55 L613.20 156.85 L613.70 157.14 L614.20 157.43 L614.70 157.70 L615.20 157.97 L615.70 158.22 L616.20 158.47 L616.70 158.71 L617.20 158.94 L617.70 159.16 L618.20 159.36 L618.70 159.56 L619.20 159.74 L619.60 159.90" stroke="#1010f0" stroke-width="1.1" fill="none" stroke-linejoin="round"/>
<path d="M391.20 30.00 L391.70 30.00 L392.20 30.00 L392.70 30.01 L393.20 30.01 L393.70 30.02 L394.20 30.02 L394.70 30.03 L395.20 30.04 L395.70 30.05 L396.20 30.05 L396.70 30.06 L397.20 30.07 L397.70 30.08 L398.20 30.10 L398.70 30.11 L399.20 30.12 L399.70 30.13 L400.20 30.15 L400.70 30.16 L401.20 30.17 L401.70 30.19 L402.20 30.20 L402.70 30.22 L403.20 30.23 L403.70 30.25 L404.20 30.26 L404.70 30.28 L405.20 30.29 L405.70 30.31 L406.20 30.32 L406.70 30.34 L407.20 30.36 L407.70 30.38 L408.20 30.40 L408.70 30.42 L409.20 30.44 L409.70 30.47 L410.20 30.49 L410.70 30.52 L411.20 30.54 L411.70 30.57 L412.20 30.60 L412.70 30.63 L413.20 30.66 L413.70 30.69 L414.20 30.72 L414.70 30.75 L415.20 30.79 L415.70 30.82 L416.20 30.86 L416.70 30.90 L417.20 30.94 L417.70 30.98 L418.20 31.02 L418.70 31.06 L419.20 31.11 L419.70 31.15 L420.20 31.21 L420.70 31.26 L421.20 31.32 L421.70 31.38 L422.20 31.44 L422.70 31.51 L423.20 31.58 L423.70 31.65 L424.20 31.73 L424.70 31.81 L425.20 31.89 L425.70 31.98 L426.20 32.07 L426.70 32.16 L427.20 32.26 L427.70 32.35 L428.20 32.45 L428.70 32.56 L429.20 32.66 L429.70 32.77 L430.20 32.88 L430.70 32.99 L431.20 33.10 L431.70 33.22 L432.20 33.34 L432.70 33.47 L433.20 33.60 L433.70 33.73 L434.20 33.88 L434.70 34.03 L435.20 34.19 L435.70 34.35 L436.20 34.53 L436.70 34.71 L437.20 34.90 L437.70 35.09 L438.20 35.28 L438.70 35.49 L439.20 35.69 L439.70 35.90 L440.20 36.10 L440.70 36.31 L441.20 36.52 L441.70 36.73 L442.20 36.94 L442.70 37.15 L443.20 37.35 L443.70 37.56 L444.20 37.76 L444.70 37.97 L445.20 38.17 L445.70 38.38 L446.20 38.59 L446.70 38.80 L447.20 39.01 L447.70 39.23 L448.20 39.44 L448.70 39.66 L449.20 39.87 L449.70 40.09 L450.20 40.31 L450.70 40.52 L451.20 40.74 L451.70 40.96 L452.20 41.18 L452.70 41.39 L453.20 41.61 L453.70 41.83 L454.20 42.05 L454.70 42.26 L455.20 42.48 L455.70 42.70 L456.20 42.91 L456.70 43.13 L457.20 43.35 L457.70 43.57 L458.20 43.78 L458.70 44.00 L459.20 44.22 L459.70 44.44 L460.20 44.66 L460.70 44.88 L461.20 45.10 L461.70 45.33 L462.20 45.55 L462.70 45.77 L463.20 46.00 L463.70 46.22 L464.20 46.44 L464.70 46.66 L465.20 46.87 L465.70 47.08 L466.20 47.28 L466.70 47.49 L467.20 47.71 L467.70 47.94 L468.20 48.19 L468.70 48.48 L469.20 48.80 L469.70 49.17 L470.20 49.60 L470.70 50.11 L471.20 50.68 L471.70 51.33 L472.20 52.03 L472.70 52.78 L473.20 53.56 L473.70 54.37 L474.20 55.21 L474.70 56.09 L475.20 57.01 L475.70 57.98 L476.20 59.03 L476.70 60.15 L477.20 61.37 L477.70 62.68 L478.20 64.07 L478.70 65.54 L479.20 67.07 L479.70 68.63 L480.20 70.22 L480.70 71.80 L481.20 73.39 L481.70 74.97 L482.20 76.56 L482.70 78.17 L483.20 79.83 L483.70 81.56 L484.20 83.39 L484.70 85.34 L485.20 87.42 L485.70 89.66 L486.20 92.06 L486.70 94.59 L487.20 97.26 L487.70 100.03 L488.20 102.88 L488.70 105.78 L489.20 108.69 L489.70 111.60 L490.20 114.48 L490.70 117.30 L491.20 120.07 L491.70 122.77 L492.20 125.42 L492.70 128.02 L493.20 130.58 L493.70 133.12 L494.20 135.63 L494.70 138.13 L495.20 140.61 L495.70 143.10 L496.20 145.58 L496.70 148.08 L497.20 150.59 L497.70 153.12 L498.20 155.65 L498.70 158.19 L499.20 160.71 L499.70 163.19 L500.20 165.59 L500.70 167.89 L501.20 170.08 L501.70 172.15 L502.20 174.11 L502.70 175.96 L503.20 177.71 L503.70 179.39 L504.20 180.98 L504.70 182.51 L505.20 183.96 L505.70 185.35 L506.20 186.67 L506.70 187.94 L507.20 189.16 L507.70 190.35 L508.20 191.51 L508.70 192.63 L509.20 193.73 L509.70 194.76 L510.20 195.72 L510.70 196.57 L511.20 197.29 L511.70 197.86 L512.20 198.26 L512.70 198.48 L513.20 198.54 L513.70 198.46 L514.20 198.25 L514.70 197.93 L515.20 197.52 L515.70 197.03 L516.20 196.48 L516.70 195.88 L517.20 195.22 L517.70 194.50 L518.20 193.71 L518.70 192.84 L519.20 191.87 L519.70 190.78 L520.20 189.58 L520.70 188.28 L521.20 186.88 L521.70 185.40 L522.20 183.84 L522.70 182.23 L523.20 180.56 L523.70 178.83 L524.20 177.02 L524.70 175.13 L525.20 173.17 L525.70 171.15 L526.20 169.09 L526.70 167.01 L527.20 164.97 L527.70 162.97 L528.20 161.04 L528.70 159.18 L529.20 157.40 L529.70 155.68 L530.20 153.98 L530.70 152.29 L531.20 150.57 L531.70 148.81 L532.20 146.97 L532.70 145.06 L533.20 143.10 L533.70 141.09 L534.20 139.08 L534.70 137.10 L535.20 135.20 L535.70 133.41 L536.20 131.75 L536.70 130.22 L537.20 128.81 L537.70 127.51 L538.20 126.30 L538.70 125.16 L539.20 124.08 L539.70 123.05 L540.20 122.07 L540.70 121.13 L541.20 120.22 L541.70 119.34 L542.20 118.49 L542.70 117.66 L543.20 116.85 L543.70 116.05 L544.20 115.27 L544.70 114.50 L545.20 113.74 L545.70 113.01 L546.20 112.30 L546.70 111.61 L547.20 110.97 L547.70 110.37 L548.20 109.81 L548.70 109.30 L549.20 108.85 L549.70 108.44 L550.20 108.08 L550.70 107.76 L551.20 107.47 L551.70 107.20 L552.20 106.96 L552.70 106.73 L553.20 106.50 L553.70 106.28 L554.20 106.06 L554.70 105.85 L555.20 105.63 L555.70 105.41 L556.20 105.20 L556.70 104.99 L557.20 104.80 L557.70 104.62 L558.20 104.45 L558.70 104.30 L559.20 104.16 L559.70 104.06 L560.20 103.97 L560.70 103.91 L561.20 103.88 L561.70 103.87 L562.20 103.89 L562.70 103.92 L563.20 103.98 L563.70 104.05 L564.20 104.14 L564.70 104.25 L565.20 104.37 L565.70 104.50 L566.20 104.64 L566.70 104.79 L567.20 104.95 L567.70 105.12 L568.20 105.30 L568.70 105.49 L569.20 105.70 L569.70 105.92 L570.20 106.17 L570.70 106.46 L571.20 106.78 L571.70 107.14 L572.20 107.53 L572.70 107.96 L573.20 108.41 L573.70 108.89 L574.20 109.39 L574.70 109.91 L575.20 110.44 L575.70 110.97 L576.20 111.52 L576.70 112.06 L577.20 112.60 L577.70 113.13 L578.20 113.66 L578.70 114.17 L579.20 114.67 L579.70 115.17 L580.20 115.66 L580.70 116.14 L581.20 116.63 L581.70 117.11 L582.20 117.59 L582.70 118.08 L583.20 118.57 L583.70 119.06 L584.20 119.55 L584.70 120.05 L585.20 120.55 L585.70 121.06 L586.20 121.57 L586.70 122.09 L587.20 122.61 L587.70 123.14 L588.20 123.67 L588.70 124.22 L589.20 124.77 L589.70 125.34 L590.20 125.91 L590.70 126.50 L591.20 127.09 L591.70 127.70 L592.20 128.31 L592.70 128.92 L593.20 129.54 L593.70 130.17 L594.20 130.79 L594.70 131.42 L595.20 132.04 L595.70 132.66 L596.20 133.28 L596.70 133.89 L597.20 134.49 L597.70 135.09 L598.20 135.67 L598.70 136.25 L599.20 136.81 L599.70 137.37 L600.20 137.91 L600.70 138.44 L601.20 138.96 L601.70 139.48 L602.20 139.98 L602.70 140.48 L603.20 140.98 L603.70 141.47 L604.20 141.95 L604.70 142.44 L605.20 142.92 L605.70 143.40 L606.20 143.88 L606.70 144.36 L607.20 144.84 L607.70 145.32 L608.20 145.81 L608.70 146.30 L609.20 146.80 L609.70 147.30 L610.20 147.80 L610.70 148.31 L611.20 148.83 L611.70 149.35 L612.20 149.87 L612.70 150.40 L613.20 150.93 L613.70 151.46 L614.20 151.99 L614.70 152.53 L615.20 153.07 L615.70 153.61 L616.20 154.15 L616.70 154.70 L617.20 155.24 L617.70 155.78 L618.20 156.31 L618.70 156.85 L619.20 157.41 L619.60 157.90" stroke="#ee1111" stroke-width="1.1" fill="none" stroke-linejoin="round"/>
<path d="M391.20 27.30 L391.70 27.41 L392.20 27.51 L392.70 27.61 L393.20 27.71 L393.70 27.82 L394.20 27.92 L394.70 28.03 L395.20 28.14 L395.70 28.25 L396.20 28.37 L396.70 28.48 L397.20 28.60 L397.70 28.71 L398.20 28.83 L398.70 28.95 L399.20 29.07 L399.70 29.19 L400.20 29.32 L400.70 29.44 L401.20 29.57 L401.70 29.70 L402.20 29.83 L402.70 29.96 L403.20 30.09 L403.70 30.22 L404.20 30.35 L404.70 30.49 L405.20 30.62 L405.70 30.76 L406.20 30.90 L406.70 31.04 L407.20 31.19 L407.70 31.34 L408.20 31.48 L408.70 31.64 L409.20 31.79 L409.70 31.95 L410.20 32.10 L410.70 32.26 L411.20 32.42 L411.70 32.59 L412.20 32.75 L412.70 32.91 L413.20 33.08 L413.70 33.24 L414.20 33.41 L414.70 33.58 L415.20 33.74 L415.70 33.91 L416.20 34.08 L416.70 34.24 L417.20 34.41 L417.70 34.57 L418.20 34.74 L418.70 34.90 L419.20 35.06 L419.70 35.21 L420.20 35.37 L420.70 35.52 L421.20 35.67 L421.70 35.82 L422.20 35.97 L422.70 36.11 L423.20 36.26 L423.70 36.40 L424.20 36.54 L424.70 36.69 L425.20 36.84 L425.70 36.98 L426.20 37.14 L426.70 37.29 L427.20 37.45 L427.70 37.61 L428.20 37.77 L428.70 37.94 L429.20 38.12 L429.70 38.30 L430.20 38.48 L430.70 38.68 L431.20 38.88 L431.70 39.09 L432.20 39.31 L432.70 39.54 L433.20 39.79 L433.70 40.04 L434.20 40.31 L434.70 40.60 L435.20 40.90 L435.70 41.22 L436.20 41.55 L436.70 41.90 L437.20 42.25 L437.70 42.62 L438.20 43.01 L438.70 43.40 L439.20 43.80 L439.70 44.21 L440.20 44.63 L440.70 45.05 L441.20 45.48 L441.70 45.92 L442.20 46.37 L442.70 46.81 L443.20 47.27 L443.70 47.73 L444.20 48.20 L444.70 48.67 L445.20 49.16 L445.70 49.66 L446.20 50.17 L446.70 50.69 L447.20 51.23 L447.70 51.77 L448.20 52.33 L448.70 52.90 L449.20 53.49 L449.70 54.08 L450.20 54.69 L450.70 55.30 L451.20 55.93 L451.70 56.57 L452.20 57.22 L452.70 57.88 L453.20 58.56 L453.70 59.24 L454.20 59.94 L454.70 60.65 L455.20 61.37 L455.70 62.10 L456.20 62.86 L456.70 63.63 L457.20 64.43 L457.70 65.24 L458.20 66.08 L458.70 66.95 L459.20 67.85 L459.70 68.78 L460.20 69.74 L460.70 70.75 L461.20 71.81 L461.70 72.93 L462.20 74.11 L462.70 75.37 L463.20 76.69 L463.70 78.08 L464.20 79.52 L464.70 81.00 L465.20 82.51 L465.70 84.02 L466.20 85.54 L466.70 87.05 L467.20 88.55 L467.70 90.03 L468.20 91.51 L468.70 92.99 L469.20 94.47 L469.70 95.95 L470.20 97.44 L470.70 98.95 L471.20 100.46 L471.70 102.00 L472.20 103.56 L472.70 105.14 L473.20 106.74 L473.70 108.36 L474.20 110.00 L474.70 111.66 L475.20 113.35 L475.70 115.05 L476.20 116.78 L476.70 118.53 L477.20 120.31 L477.70 122.13 L478.20 123.98 L478.70 125.88 L479.20 127.83 L479.70 129.85 L480.20 131.96 L480.70 134.16 L481.20 136.44 L481.70 138.79 L482.20 141.17 L482.70 143.50 L483.20 145.74 L483.70 147.84 L484.20 149.76 L484.70 151.52 L485.20 153.12 L485.70 154.59 L486.20 155.96 L486.70 157.26 L487.20 158.51 L487.70 159.72 L488.20 160.90 L488.70 162.07 L489.20 163.22 L489.70 164.34 L490.20 165.41 L490.70 166.40 L491.20 167.30 L491.70 168.10 L492.20 168.79 L492.70 169.40 L493.20 169.92 L493.70 170.38 L494.20 170.79 L494.70 171.14 L495.20 171.43 L495.70 171.67 L496.20 171.84 L496.70 171.94 L497.20 171.96 L497.70 171.90 L498.20 171.77 L498.70 171.57 L499.20 171.30 L499.70 170.98 L500.20 170.61 L500.70 170.20 L501.20 169.75 L501.70 169.25 L502.20 168.69 L502.70 168.07 L503.20 167.37 L503.70 166.60 L504.20 165.77 L504.70 164.86 L505.20 163.91 L505.70 162.91 L506.20 161.86 L506.70 160.77 L507.20 159.62 L507.70 158.43 L508.20 157.18 L508.70 155.87 L509.20 154.51 L509.70 153.10 L510.20 151.64 L510.70 150.12 L511.20 148.54 L511.70 146.92 L512.20 145.26 L512.70 143.58 L513.20 141.92 L513.70 140.30 L514.20 138.74 L514.70 137.26 L515.20 135.85 L515.70 134.50 L516.20 133.21 L516.70 131.96 L517.20 130.75 L517.70 129.57 L518.20 128.42 L518.70 127.30 L519.20 126.21 L519.70 125.15 L520.20 124.11 L520.70 123.10 L521.20 122.11 L521.70 121.15 L522.20 120.22 L522.70 119.31 L523.20 118.42 L523.70 117.55 L524.20 116.70 L524.70 115.87 L525.20 115.05 L525.70 114.23 L526.20 113.43 L526.70 112.65 L527.20 111.88 L527.70 111.13 L528.20 110.40 L528.70 109.70 L529.20 109.03 L529.70 108.40 L530.20 107.80 L530.70 107.24 L531.20 106.73 L531.70 106.26 L532.20 105.82 L532.70 105.42 L533.20 105.05 L533.70 104.70 L534.20 104.37 L534.70 104.07 L535.20 103.79 L535.70 103.54 L536.20 103.33 L536.70 103.16 L537.20 103.03 L537.70 102.95 L538.20 102.91 L538.70 102.91 L539.20 102.94 L539.70 103.00 L540.20 103.08 L540.70 103.17 L541.20 103.29 L541.70 103.42 L542.20 103.56 L542.70 103.72 L543.20 103.88 L543.70 104.05 L544.20 104.23 L544.70 104.43 L545.20 104.65 L545.70 104.88 L546.20 105.14 L546.70 105.43 L547.20 105.75 L547.70 106.09 L548.20 106.46 L548.70 106.85 L549.20 107.25 L549.70 107.67 L550.20 108.10 L550.70 108.54 L551.20 108.98 L551.70 109.44 L552.20 109.91 L552.70 110.39 L553.20 110.88 L553.70 111.40 L554.20 111.93 L554.70 112.47 L555.20 113.03 L555.70 113.60 L556.20 114.19 L556.70 114.78 L557.20 115.38 L557.70 115.99 L558.20 116.60 L558.70 117.21 L559.20 117.82 L559.70 118.43 L560.20 119.04 L560.70 119.65 L561.20 120.26 L561.70 120.86 L562.20 121.47 L562.70 122.08 L563.20 122.69 L563.70 123.31 L564.20 123.93 L564.70 124.55 L565.20 125.17 L565.70 125.80 L566.20 126.43 L566.70 127.06 L567.20 127.68 L567.70 128.31 L568.20 128.93 L568.70 129.56 L569.20 130.17 L569.70 130.78 L570.20 131.39 L570.70 131.99 L571.20 132.58 L571.70 133.17 L572.20 133.75 L572.70 134.33 L573.20 134.90 L573.70 135.47 L574.20 136.03 L574.70 136.59 L575.20 137.15 L575.70 137.71 L576.20 138.26 L576.70 138.81 L577.20 139.35 L577.70 139.89 L578.20 140.43 L578.70 140.96 L579.20 141.48 L579.70 142.01 L580.20 142.52 L580.70 143.03 L581.20 143.53 L581.70 144.03 L582.20 144.52 L582.70 145.00 L583.20 145.48 L583.70 145.94 L584.20 146.40 L584.70 146.84 L585.20 147.27 L585.70 147.70 L586.20 148.12 L586.70 148.53 L587.20 148.94 L587.70 149.35 L588.20 149.75 L588.70 150.16 L589.20 150.57 L589.70 150.98 L590.20 151.40 L590.70 151.83 L591.20 152.27 L591.70 152.72 L592.20 153.18 L592.70 153.66 L593.20 154.15 L593.70 154.66 L594.20 155.18 L594.70 155.73 L595.20 156.28 L595.70 156.86 L596.20 157.44 L596.70 158.03 L597.20 158.63 L597.70 159.23 L598.20 159.83 L598.70 160.43 L599.20 161.03 L599.70 161.63 L600.20 162.22 L600.70 162.80 L601.20 163.36 L601.70 163.91 L602.20 164.45 L602.70 164.97 L603.20 165.47 L603.70 165.95 L604.20 166.42 L604.70 166.86 L605.20 167.30 L605.70 167.72 L606.20 168.13 L606.70 168.53 L607.20 168.92 L607.70 169.31 L608.20 169.69 L608.70 170.07 L609.20 170.45 L609.70 170.84 L610.20 171.22 L610.70 171.61 L611.20 171.99 L611.70 172.38 L612.20 172.77 L612.70 173.15 L613.20 173.54 L613.70 173.92 L614.20 174.31 L614.70 174.69 L615.20 175.07 L615.70 175.46 L616.20 175.84 L616.70 176.22 L617.20 176.59 L617.70 176.96 L618.20 177.33 L618.70 177.69 L619.20 178.07 L619.60 178.40" stroke="#000" stroke-width="1.1" fill="none" stroke-linejoin="round"/>
<text x="384.6" y="23.5" font-family='"Liberation Sans", sans-serif' font-size="11" font-weight="normal" text-anchor="middle" fill="#222" >b</text>
<text x="516.6" y="20.2" font-family='"Liberation Serif", serif' font-size="11.5" font-weight="normal" text-anchor="middle" fill="#e02020" >pH</text>
<path d="M490.5 28.2H535" stroke="#1414dc" stroke-width="1.8"/><path d="M532.5 25.2L542.5 28.2L532.5 31.2Z" fill="#1414dc"/>
<text x="519.1" y="262.5" font-family='"Liberation Serif", serif' font-size="10" font-weight="bold" text-anchor="middle" fill="#111" >E (V vs. Ag/AgCl)</text>
<text transform="translate(339.3,115.7) rotate(-90)" font-family='"Liberation Serif", serif' font-size="12" text-anchor="middle" fill="#222">I(&#956;A)</text>
<rect x="38.9" y="300.8" width="279.6" height="225.2" fill="none" stroke="#505050" stroke-width="1.4"/>
<text transform="translate(60.41,540.50) scale(1.000,1)" font-family='"Liberation Sans", sans-serif' font-size="9.6" text-anchor="middle" fill="#222">3</text>
<text transform="translate(103.43,540.50) scale(1.000,1)" font-family='"Liberation Sans", sans-serif' font-size="9.6" text-anchor="middle" fill="#222">4</text>
<text transform="translate(146.45,540.50) scale(1.000,1)" font-family='"Liberation Sans", sans-serif' font-size="9.6" text-anchor="middle" fill="#222">5</text>
<text transform="translate(189.47,540.50) scale(1.000,1)" font-family='"Liberation Sans", sans-serif' font-size="9.6" text-anchor="middle" fill="#222">6</text>
<text transform="translate(232.49,540.50) scale(1.000,1)" font-family='"Liberation Sans", sans-serif' font-size="9.6" text-anchor="middle" fill="#222">7</text>
<text transform="translate(275.51,540.50) scale(1.000,1)" font-family='"Liberation Sans", sans-serif' font-size="9.6" text-anchor="middle" fill="#222">8</text>
<text transform="translate(318.53,540.50) scale(1.000,1)" font-family='"Liberation Sans", sans-serif' font-size="9.6" text-anchor="middle" fill="#222">9</text>
<text transform="translate(31.90,515.95) scale(1.000,1)" font-family='"Liberation Sans", sans-serif' font-size="9.6" text-anchor="end" fill="#222">5</text>
<text transform="translate(31.90,489.46) scale(1.000,1)" font-family='"Liberation Sans", sans-serif' font-size="9.6" text-anchor="end" fill="#222">10</text>
<text transform="translate(31.90,462.96) scale(1.000,1)" font-family='"Liberation Sans", sans-serif' font-size="9.6" text-anchor="end" fill="#222">15</text>
<text transform="translate(31.90,436.47) scale(1.000,1)" font-family='"Liberation Sans", sans-serif' font-size="9.6" text-anchor="end" fill="#222">20</text>
<text transform="translate(31.90,409.97) scale(1.000,1)" font-family='"Liberation Sans", sans-serif' font-size="9.6" text-anchor="end" fill="#222">25</text>
<text transform="translate(31.90,383.48) scale(1.000,1)" font-family='"Liberation Sans", sans-serif' font-size="9.6" text-anchor="end" fill="#222">30</text>
<text transform="translate(31.90,356.98) scale(1.000,1)" font-family='"Liberation Sans", sans-serif' font-size="9.6" text-anchor="end" fill="#222">35</text>
<text transform="translate(31.90,330.49) scale(1.000,1)" font-family='"Liberation Sans", sans-serif' font-size="9.6" text-anchor="end" fill="#222">40</text>
<text transform="translate(31.90,303.99) scale(1.000,1)" font-family='"Liberation Sans", sans-serif' font-size="9.6" text-anchor="end" fill="#222">45</text>
<text transform="translate(326.00,303.99) scale(1.000,1)" font-family='"Liberation Sans", sans-serif' font-size="9.6" text-anchor="start" fill="#222">-0.95</text>
<text transform="translate(326.00,330.49) scale(1.000,1)" font-family='"Liberation Sans", sans-serif' font-size="9.6" text-anchor="start" fill="#222">-1.00</text>
<text transform="translate(326.00,356.98) scale(1.000,1)" font-family='"Liberation Sans", sans-serif' font-size="9.6" text-anchor="start" fill="#222">-1.05</text>
<text transform="translate(326.00,383.48) scale(1.000,1)" font-family='"Liberation Sans", sans-serif' font-size="9.6" text-anchor="start" fill="#222">-1.10</text>
<text transform="translate(326.00,409.97) scale(1.000,1)" font-family='"Liberation Sans", sans-serif' font-size="9.6" text-anchor="start" fill="#222">-1.15</text>
<text transform="translate(326.00,436.47) scale(1.000,1)" font-family='"Liberation Sans", sans-serif' font-size="9.6" text-anchor="start" fill="#222">-1.20</text>
<text transform="translate(326.00,462.96) scale(1.000,1)" font-family='"Liberation Sans", sans-serif' font-size="9.6" text-anchor="start" fill="#222">-1.25</text>
<text transform="translate(326.00,489.46) scale(1.000,1)" font-family='"Liberation Sans", sans-serif' font-size="9.6" text-anchor="start" fill="#222">-1.30</text>
<text transform="translate(326.00,515.95) scale(1.000,1)" font-family='"Liberation Sans", sans-serif' font-size="9.6" text-anchor="start" fill="#222">-1.35</text>
<path d="M60.4 526.0v4.5 M103.4 526.0v4.5 M146.5 526.0v4.5 M189.5 526.0v4.5 M232.5 526.0v4.5 M275.5 526.0v4.5 M318.5 526.0v4.5 M81.9 526.0v2.5 M124.9 526.0v2.5 M168.0 526.0v2.5 M211.0 526.0v2.5 M254.0 526.0v2.5 M297.0 526.0v2.5 M38.9 512.8h-4.3 M38.9 486.3h-4.3 M38.9 459.8h-4.3 M38.9 433.3h-4.3 M38.9 406.8h-4.3 M38.9 380.3h-4.3 M38.9 353.8h-4.3 M38.9 327.3h-4.3 M38.9 300.8h-4.3 M38.9 526.0h-2.3 M38.9 499.5h-2.3 M38.9 473.0h-2.3 M38.9 446.5h-2.3 M38.9 420.0h-2.3 M38.9 393.5h-2.3 M38.9 367.0h-2.3 M38.9 340.5h-2.3 M38.9 314.0h-2.3 M318.5 300.8h4.3 M318.5 327.3h4.3 M318.5 353.8h4.3 M318.5 380.3h4.3 M318.5 406.8h4.3 M318.5 433.3h4.3 M318.5 459.8h4.3 M318.5 486.3h4.3 M318.5 512.8h4.3 M318.5 314.0h2.3 M318.5 340.5h2.3 M318.5 367.0h2.3 M318.5 393.5h2.3 M318.5 420.0h2.3 M318.5 446.5h2.3 M318.5 473.0h2.3 M318.5 499.5h2.3 M318.5 526.0h2.3" stroke="#505050" stroke-width="1.2" fill="none"/>
<path d="M69.0 333.6L292.7 504.2" stroke="#e03030" stroke-width="1.05"/>
<path d="M69.0 507.5 L142.1 369.7 L180.9 348.5 L211.0 337.9 L241.1 316.7 L292.7 353.8" stroke="#111" stroke-width="1.1" fill="none"/>
<rect x="66.8" y="325.1" width="4.4" height="4.4" fill="#000"/>
<rect x="139.9" y="394.0" width="4.4" height="4.4" fill="#000"/>
<rect x="178.7" y="420.5" width="4.4" height="4.4" fill="#000"/>
<rect x="208.8" y="441.7" width="4.4" height="4.4" fill="#000"/>
<rect x="238.9" y="457.6" width="4.4" height="4.4" fill="#000"/>
<rect x="290.5" y="500.0" width="4.4" height="4.4" fill="#000"/>
<path d="M69.0 504.2L72.3 509.7L65.7 509.7Z" fill="#000"/>
<path d="M142.1 366.4L145.4 371.9L138.8 371.9Z" fill="#000"/>
<path d="M180.9 345.2L184.2 350.7L177.6 350.7Z" fill="#000"/>
<path d="M211.0 334.6L214.3 340.1L207.7 340.1Z" fill="#000"/>
<path d="M241.1 313.4L244.4 318.9L237.8 318.9Z" fill="#000"/>
<path d="M292.7 350.5L296.0 356.0L289.4 356.0Z" fill="#000"/>
<text x="49.5" y="316.5" font-family='"Liberation Sans", sans-serif' font-size="11" font-weight="normal" text-anchor="middle" fill="#222" >c</text>
<text x="179.0" y="559.3" font-family='"Liberation Sans", sans-serif' font-size="12" font-weight="normal" text-anchor="middle" fill="#222" >pH</text>
<text transform="translate(9.7,406.5) rotate(-90)" font-family='"Liberation Serif", serif' font-size="12" text-anchor="middle" fill="#222">I(&#956;A)</text>
<text transform="translate(361.5,413.4) rotate(-90)" font-family='"Liberation Sans", sans-serif' font-size="11" text-anchor="middle" fill="#333">E(V)</text>
<text x="83.3" y="406.0" font-family='"Liberation Serif", serif' font-size="12.8" font-weight="bold" text-anchor="middle" fill="#111" >I</text>
<path d="M110.6 416H66" stroke="#1414dc" stroke-width="1.8"/><path d="M69 413L58.8 416L69 419Z" fill="#1414dc"/>
<text x="260.0" y="441.2" font-family='"Liberation Serif", serif' font-size="12.5" font-weight="bold" text-anchor="middle" fill="#111" >E</text>
<path d="M238 446H281" stroke="#1414dc" stroke-width="1.8"/><path d="M279.5 443L289.6 446L279.5 449Z" fill="#1414dc"/>
<text x="190.0" y="407.5" font-family='"Liberation Serif", serif' font-size="10.6" font-weight="normal" text-anchor="start" fill="#222" >y = 0.0619x + 0.8139</text>
<text x="190.0" y="420.0" font-family='"Liberation Serif", serif' font-size="10.6" font-weight="normal" text-anchor="start" fill="#222" >R² = 0.9925</text>
</svg></body></html>
